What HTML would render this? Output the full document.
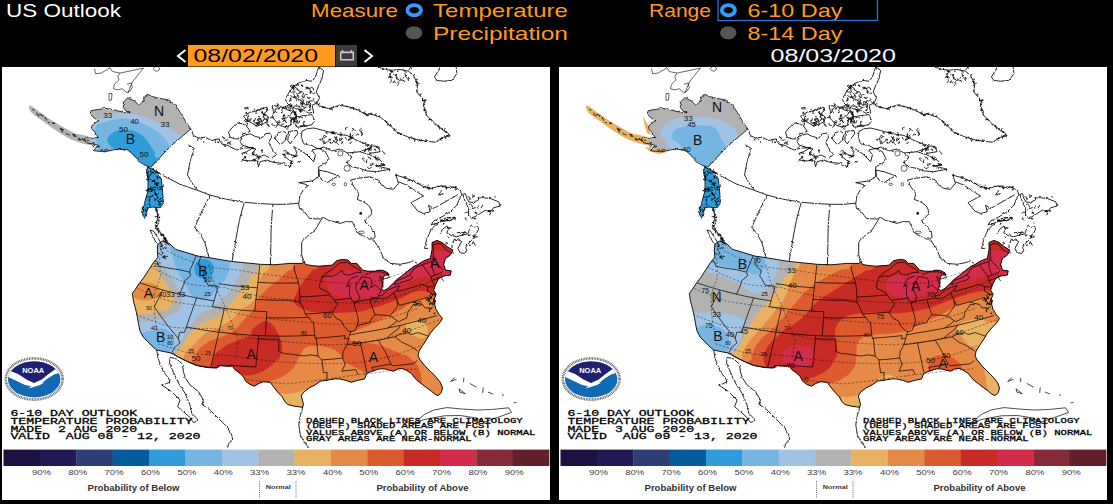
<!DOCTYPE html>
<html><head><meta charset="utf-8"><title>US Outlook</title>
<style>
html,body{margin:0;padding:0;background:#000;width:1113px;height:504px;overflow:hidden}
svg{display:block;font-family:"Liberation Sans",sans-serif}
.mono{font-family:"Liberation Mono",monospace}
</style></head><body>
<svg width="1113" height="504" viewBox="0 0 1113 504">
<defs>
<clipPath id="cp"><rect x="0" y="0" width="548" height="433"/></clipPath>
<g id="geo">
<filter id="rough" x="-5%" y="-5%" width="110%" height="110%"><feTurbulence type="fractalNoise" baseFrequency="0.3" numOctaves="2" seed="7" result="n"/><feDisplacementMap in="SourceGraphic" in2="n" scale="2.6" xChannelSelector="R" yChannelSelector="G"/></filter>
<g filter="url(#rough)">
<path d="M153.7 140.3 L155.9 148.1 L154.8 154.7 L153.7 161.4 L158.2 165.9 L162.6 170.3 L164.8 175.9 L167.1 178.1 M148.1 163.1 L150.4 168.1 L153.7 174.8 L157.0 178.7 L160.4 179.2 L158.2 174.8 L154.8 169.2 L151.5 164.2Z M188.9 62.0 L191.4 68.5 L196.4 71.0 L203.1 70.2 L209.8 73.5 L216.4 71.9 L219.8 76.9 L226.5 78.5 L228.1 79.7 L234.8 83.0 L241.5 81.3 L251.5 80.5 L244.8 84.7 L239.8 86.4 L243.2 90.5 L239.8 93.0 L248.2 93.9 L254.9 93.0 L256.5 99.7 L258.2 94.7 L264.9 93.0 L271.6 95.5 L281.6 96.4 L288.3 99.7 L290.0 94.7 L285.0 91.4 L281.6 88.0 L286.6 86.4 L293.3 89.7 L295.0 84.7 L291.6 79.7 L298.3 83.0 L305.0 88.0 L311.7 94.7 L313.4 88.0 L310.0 83.0 L316.7 81.3 L323.4 84.7 L326.7 91.4 L323.4 96.4 L316.7 99.7 L316.7 109.8 L310.0 113.9 L303.3 114.8 L296.7 115.6 L306.7 118.1 L301.7 122.3 L298.3 128.1 L296.7 136.5 L297.5 141.5 L301.7 144.0 L305.0 148.2 L307.5 151.5 L318.0 152.0 L321.3 150.3 L326.9 153.6 L332.5 154.7 L338.1 156.4 L343.6 154.7 L350.3 154.7 L352.5 159.2 L354.8 163.7 L357.0 167.0 L362.6 169.8 L367.0 172.0 L370.4 172.0 L373.1 170.3 L372.6 165.9 L369.2 161.4 L365.9 157.5 L362.0 154.2 L364.8 152.0 L368.7 148.1 L369.8 143.6 L367.0 138.6 L361.4 134.7 L355.3 132.5 L356.8 126.5 L351.8 119.8 L348.5 113.1 L355.1 111.4 L368.0 109.8 L376.4 113.1 L379.7 118.1 L384.7 121.4 L391.4 122.3 L396.4 116.4 L393.9 108.1 L404.8 111.4 L414.8 115.6 L421.5 119.8 L429.9 121.4 L438.2 118.9 L444.9 120.6 L451.6 119.8 L458.3 123.1 L459.9 128.1 L458.3 129.8 L454.9 138.2 L448.2 144.8 L439.9 149.9 L431.5 154.0 L429.0 158.2 L430.3 156.9 L434.7 156.4 L440.3 154.1 L448.1 153.6 L453.7 151.9 L452.5 150.2 L443.6 151.3 L435.8 155.8 L429.1 162.5 L424.7 172.5 L422.5 181.4 M439.9 123.1 L436.5 128.1 L441.6 126.5 M316.7 103.1 L325.1 104.7 L336.8 108.9 L331.7 111.4 L325.1 115.6 L320.0 113.1 L317.5 109.8Z M438.1 166.9 L440.3 162.5 L444.7 159.1 L446.4 162.5 L444.7 165.8 L449.2 168.6 L454.8 169.7 L460.3 168.1 L465.9 166.9 L467.0 163.6 L469.2 158.0 L472.6 160.3 L475.9 159.7 L476.5 162.5 L473.7 167.5 L470.4 172.5 L465.9 177.0 L463.7 180.3 L464.8 183.7 L462.6 186.4 L458.1 185.9 L455.9 181.4 L458.1 177.0 L459.8 174.7 L457.0 173.1 L452.5 172.0 L450.3 177.0 L449.8 181.4 M454.8 165.8 L459.2 165.3 L464.8 165.8 M438.2 153.2 L446.6 150.7 L453.3 150.7 L448.2 153.2 L441.6 154.0Z M460.8 127.3 L463.3 126.5 L466.6 134.8 L471.6 135.7 L480.0 130.6 L488.3 131.5 L496.7 134.8 L498.4 139.0 L491.7 140.7 L488.3 144.8 L483.3 143.2 L476.7 147.4 L470.0 151.5 L466.6 148.2 L466.6 141.5 L463.3 134.8Z M396.4 114.8 L404.8 118.1 L409.8 121.4 L421.5 129.0 L409.0 135.7 L415.7 144.0 L421.5 146.5 L428.2 144.8 L426.5 138.2 L431.5 141.5 L456.6 127.3 M358.0 84.7 L368.0 88.0 L378.1 93.0 L383.1 98.1 L374.7 98.9 L388.1 102.2 L374.7 104.7 L364.7 103.9 L358.0 101.4 L350.0 100.0 L345.0 96.0 L350.0 90.0 L345.1 86.0 M363.0 78.0 L376.4 79.7 L378.1 84.7 L368.0 86.4 M314.2 35.9 L320.0 40.1 L328.4 41.8 L336.8 38.4 L345.1 39.3 L355.1 42.6 L364.0 47.6 L368.0 46.8 L378.1 50.1 L386.4 56.8 L394.8 65.2 L406.5 70.2 L418.2 73.5 L433.2 75.2 L441.6 70.2 L448.2 68.5 L441.6 63.5 L433.2 56.8 L424.8 48.5 L421.5 40.1 L422.3 33.4 L414.8 25.1 L415.7 16.7 L411.5 8.4 L406.5 4.2 L398.1 2.5 L388.1 3.3 L374.7 0.0 M432.4 10.0 L436.5 3.3 L438.2 0.0 M454.1 0.0 L454.9 6.7 L449.9 13.4 L441.6 14.2 L434.9 13.4 L432.4 10.0 M226.5 65.2 L229.8 61.0 L234.8 56.0 L240.7 56.8 L244.8 59.3 L248.2 64.3 L244.0 66.0 L240.7 66.8 L238.5 71.9 L233.1 71.9 L228.1 70.2Z M238.2 74.4 L241.5 68.5 L248.2 66.8 L253.2 69.4 L259.9 71.0 L263.2 66.8 L268.2 66.0 L269.6 70.2 L266.6 75.2 L269.1 80.2 L271.6 84.1 L275.0 88.0 L268.0 91.0 L262.0 88.0 L256.0 90.0 L250.0 86.0 L254.0 82.0 L246.0 80.0 L240.0 78.0Z M241.5 49.3 L248.2 45.1 L256.5 43.4 L264.9 40.1 L265.7 43.4 L261.6 46.8 L266.6 50.1 L264.9 55.1 L259.9 56.8 L254.9 59.3 L249.9 56.0 L244.8 53.5Z M269.9 38.4 L278.3 39.3 L286.6 43.4 L293.3 45.1 L295.0 50.1 L290.0 51.8 L288.3 58.5 L281.6 60.2 L276.6 57.7 L273.3 53.5 L269.9 50.1 L271.6 45.1Z M283.3 31.8 L288.3 23.4 L295.0 16.7 L303.3 13.4 L310.0 14.2 L313.4 10.0 L316.7 0.0 L321.7 3.3 L320.0 11.7 L316.7 18.4 L314.2 25.1 L317.5 30.9 L315.0 35.9 L310.0 38.4 L311.7 45.1 L306.7 46.0 L301.7 43.4 L295.0 41.8 L288.3 39.3 L285.0 35.9Z M293.3 50.1 L301.7 48.5 L310.0 47.6 L312.5 53.5 L310.0 57.7 L301.7 59.3 L295.0 60.2 L291.6 56.0Z M274.9 66.0 L281.6 64.3 L285.0 66.8 L283.3 73.5 L278.3 77.7 L273.3 71.9Z M286.6 64.3 L295.0 63.5 L295.8 66.8 L291.6 71.9 L288.3 76.9 L285.8 73.5Z M300.0 64.3 L305.0 61.8 L311.7 61.0 L321.7 63.5 L333.4 66.8 L345.1 68.5 L355.1 73.5 L364.0 76.9 L370.0 80.0 L358.0 84.7 L345.1 86.0 L338.0 82.0 L330.0 84.0 L322.0 80.0 L316.0 82.0 L310.0 78.5 L301.7 76.9 L299.2 70.2Z M186.4 78.0 L192.2 81.3 L188.0 94.7 L185.5 108.1 L191.4 118.1 L195.5 123.1 M146.0 99.2 L160.0 108.0 L178.0 117.3 L194.7 123.1 L208.1 128.1 L224.8 132.3 L241.5 135.2 L256.5 136.5 L271.6 137.3 L285.0 137.3 L296.7 136.2 M208.1 128.1 L199.7 144.8 L192.7 160.3 L198.3 167.0 L203.0 176.0 L207.0 190.5 M242.3 135.2 L238.2 149.9 L235.7 162.1 L230.0 194.4 M270.9 137.3 L269.9 149.9 L269.1 162.1 L268.5 197.6 M320.0 151.5 L313.0 163.0 L304.7 169.7 L299.7 174.7 L299.7 188.1 L302.2 194.8 M371.5 172.6 L374.8 178.1 L376.5 179.7 L381.6 191.4 L388.2 196.4 L398.3 197.3 L406.6 195.6 L411.6 193.9 L415.0 196.4 M428.6 181.4 L422.5 181.4 M154.7 283.0 L155.8 290.3 L158.1 297.0 L161.4 304.8 L165.9 310.3 L168.1 314.8 L163.6 317.0 L159.7 318.0 L169.8 324.7 L178.1 333.0 L175.6 339.7 L181.4 344.7 L188.1 350.6 L191.5 355.6 L195.7 353.9 L194.8 351.4 L189.8 346.4 L187.3 336.4 L183.1 326.4 L177.0 317.0 L173.7 310.3 L170.3 302.5 L167.5 295.9 L168.1 290.3 L174.8 292.0 L180.3 297.0 L181.4 304.8 L183.7 311.4 L188.1 318.0 L196.5 324.7 L201.5 333.0 L199.8 337.2 L208.2 343.1 L216.5 351.4 L224.9 359.8 L229.9 368.1 L230.7 373.1 L226.6 376.5 L225.7 380.7 M300.9 339.7 L298.4 348.1 L296.8 358.1 L298.4 368.1 L302.6 375.7 L306.8 380.7" fill="none" stroke="#000" stroke-width="0.85" stroke-linejoin="round"/>
<path d="M188.9 62.0 L186.1 58.1 L181.6 51.0 L179.4 47.4 L176.0 41.8 L172.7 37.3 L166.0 32.9 L157.1 31.2 L150.4 29.5 L145.9 27.3 L143.7 28.4 L140.4 35.1 L137.0 38.4 L132.6 34.0 L125.9 30.7 L121.4 35.1 L121.4 40.7 L124.8 45.1 L128.2 44.7 L123.7 45.8 L119.2 44.7 L112.6 43.0 L103.7 41.4 L95.9 42.5 L89.2 43.6 L88.1 46.9 L92.5 51.4 L97.0 53.6 L94.7 54.7 L90.3 58.1 L89.2 61.4 L92.5 64.8 L96.0 70.3 L90.4 71.4 L84.8 70.3 L82.0 72.0 L84.8 75.8 L96.0 78.1 L91.5 83.7 L102.7 84.8 L112.7 82.6 L125.0 82.6 L129.4 85.9 L134.8 91.4 L141.5 98.1 L146.0 99.2 L144.5 104.0 L146.0 112.0 L146.0 123.0 L144.8 128.0 L142.0 138.0 L140.3 142.0 L140.8 148.0 L142.5 151.4 L144.0 147.0 L146.0 141.0 L150.0 140.0 L158.0 141.0 L161.5 136.0 L160.5 123.0 L159.4 112.0 L153.0 104.0 L148.5 100.5 L168.3 79.5Z" fill="none" stroke="#000" stroke-width="0.8"/>
</g>
<path d="M155.9 177.4 L160.0 174.0 L167.0 176.2 L173.7 182.4 L184.8 185.7 L196.0 189.1 L207.1 190.7 L218.3 192.6 L229.4 194.4 L242.0 195.7 L258.4 197.3 L271.8 197.8 L288.0 196.4 L300.3 196.4 L301.9 194.2 L303.6 197.5 L310.3 198.6 L317.0 199.2 L324.8 198.6 L330.3 198.1 L334.8 193.6 L340.4 192.5 L345.9 193.0 L349.3 196.4 L354.8 196.4 L358.2 200.3 L360.4 203.1 L366.0 204.2 L372.7 204.2 L377.1 203.1 L381.6 203.6 L386.0 205.9 L387.2 208.1 L382.7 208.1 L381.0 211.4 L381.0 217.0 L379.4 221.4 L381.6 223.7 L386.0 221.4 L391.6 215.9 L395.0 212.5 L399.4 209.2 L405.0 204.7 L412.0 199.2 L415.0 198.1 L421.7 193.9 L428.3 191.4 L430.0 183.1 L430.0 175.5 L435.0 173.4 L440.0 175.5 L445.1 179.7 L450.9 183.1 L448.4 188.1 L443.4 191.4 L441.7 197.3 L443.4 203.1 L449.2 203.9 L448.4 208.1 L441.7 209.0 L436.7 211.5 L433.4 218.1 L431.7 223.2 L434.2 227.3 L431.7 233.2 L433.8 241.9 L437.2 247.5 L440.5 251.4 L437.2 256.4 L432.7 260.9 L428.2 266.4 L424.9 272.0 L420.4 278.7 L417.1 284.2 L416.0 289.0 L418.2 293.0 L422.7 298.6 L428.2 304.2 L433.8 309.7 L438.3 315.3 L440.5 320.9 L439.4 325.3 L436.0 328.7 L432.7 327.0 L429.4 324.2 L424.9 320.9 L420.4 317.5 L416.0 314.2 L412.6 310.9 L409.3 306.4 L404.8 303.6 L400.4 301.4 L395.9 301.9 L391.5 304.2 L387.0 303.1 L382.6 301.9 L377.0 301.9 L370.3 304.2 L364.7 306.4 L362.5 312.0 L356.9 313.1 L349.1 315.3 L344.7 313.6 L338.0 312.0 L332.7 311.9 L326.0 313.1 L318.2 314.2 L313.8 317.5 L307.1 320.9 L301.5 325.3 L299.3 328.7 L300.4 333.1 L301.5 337.6 L300.4 340.3 L292.6 339.2 L285.9 337.6 L282.6 334.2 L280.3 329.8 L275.9 325.3 L271.4 319.7 L268.1 315.3 L261.4 314.7 L256.9 316.4 L252.5 319.2 L248.0 317.5 L243.6 314.2 L241.3 309.7 L238.0 306.4 L232.7 302.5 L230.5 299.2 L218.2 298.6 L216.0 300.3 L211.5 300.9 L204.8 300.5 L195.9 298.6 L187.0 295.3 L180.3 292.0 L174.8 289.2 L171.4 286.4 L162.5 284.7 L154.7 283.0 L152.5 281.4 L146.9 275.8 L141.3 270.2 L138.1 264.2 L136.4 256.4 L135.3 249.7 L133.6 241.9 L131.4 234.1 L130.3 226.3 L132.5 223.6 L136.9 216.9 L142.0 210.2 L147.0 202.4 L151.4 195.7 L155.9 190.2 L155.3 183.5Z" fill="none" stroke="#000" stroke-width="0.9" stroke-linejoin="round"/>
<g fill="none" stroke="#000" stroke-width="0.6"><circle cx="338.4" cy="86.4" r="2.6"/><circle cx="345.1" cy="101.4" r="3"/><ellipse cx="331.7" cy="117.3" rx="1.8" ry="1.2"/><ellipse cx="343.4" cy="117.3" rx="1.2" ry="1.8"/><ellipse cx="359.2" cy="165.3" rx="3.3" ry="1.2"/></g>
<circle cx="358.7" cy="146.4" r="1.3" fill="#000"/>
<path d="M147.7 132.7 L146.9 132.6 L146.7 133.2M156.3 106.3 L157.7 105.9 L158.1 106.9M155.0 112.3 L155.4 110.9 L154.7 109.2M154.4 103.3 L155.1 105.0 L155.9 105.1 L156.9 106.7M153.2 115.1 L152.2 115.0 L151.4 113.2 L152.6 113.4 L153.1 112.3M158.9 133.1 L159.8 134.5 L161.5 134.5M158.6 120.8 L157.5 120.0 L159.2 120.0 L160.7 119.6 L162.0 119.5M155.7 117.2 L154.5 117.3 L155.2 118.0 L154.8 117.7 L154.8 118.7M152.8 116.8 L153.6 116.7 L152.9 117.9 L153.3 118.2M154.4 108.9 L156.1 109.9 L156.3 111.2M149.0 121.0 L148.5 122.5 L149.1 122.8 L149.9 122.4 L151.2 124.1M158.2 120.9 L158.3 121.2 L158.0 119.6M157.3 122.9 L158.9 122.6 L160.0 122.3M146.0 121.9 L145.4 122.3 L146.5 122.8 L146.7 121.6 L145.2 121.8M157.1 135.6 L158.3 136.2 L156.8 134.5M146.2 129.4 L145.4 130.5 L144.2 129.8M148.2 111.9 L148.7 112.5 L148.0 113.2M152.5 107.0 L152.0 106.7 L150.9 105.3 L152.4 105.3M148.7 124.2 L147.7 123.8 L146.1 125.5M151.8 120.7 L152.0 119.7 L153.7 120.8 L153.7 119.8M154.4 116.8 L155.5 117.4 L155.3 118.3 L153.9 117.2 L152.3 115.7M147.0 135.1 L147.9 134.8 L147.0 133.0 L148.3 131.4M156.7 136.7 L156.5 137.9 L157.8 138.9 L158.3 137.2 L157.2 135.8M153.5 134.4 L152.4 133.0 L153.0 132.2 L152.9 131.6 L154.3 133.0M146.2 110.0 L147.4 110.3 L146.0 110.0 L145.2 108.6M150.9 122.2 L151.1 123.1 L151.2 121.6 L149.5 120.2 L148.3 120.4M149.5 114.6 L150.7 114.2 L150.1 113.4 L151.5 113.8 L153.1 115.2M147.8 122.3 L147.1 122.0 L146.7 123.7M147.9 107.4 L148.3 108.4 L147.9 108.6M148.9 105.9 L148.4 105.1 L148.5 103.7 L150.0 102.3M146.6 113.4 L147.2 111.9 L145.8 113.3 L144.2 112.3 L145.9 112.0M147.5 108.9 L146.3 110.1 L146.0 111.8M156.5 122.0 L156.7 122.8 L156.0 121.7 L155.3 120.0M156.2 135.4 L156.6 135.2 L155.9 133.6 L157.4 135.3 L159.1 133.9M148.8 124.6 L150.1 124.5 L149.6 123.4 L148.6 122.3 L148.0 123.4M147.2 129.4 L147.7 129.9 L149.3 129.5M150.0 114.5 L151.0 114.7 L152.6 113.8 L151.1 114.2M156.5 106.2 L154.8 105.3 L153.2 105.5M146.9 105.6 L145.2 106.5 L144.7 106.4 L145.9 105.0 L146.9 104.4M152.6 126.3 L153.6 128.0 L154.8 127.4M147.4 121.0 L146.6 122.4 L145.4 123.9 L143.7 123.2 L145.1 124.3M157.8 132.4 L159.5 131.4 L158.8 131.5 L157.2 132.8 L156.3 133.8M154.9 118.6 L155.0 118.8 L156.3 118.6 L155.9 118.0M149.4 103.9 L150.9 105.6 L149.2 106.3 L149.5 106.6 L148.2 108.3M149.6 122.7 L150.0 121.8 L148.2 121.9M152.5 125.7 L154.1 126.2 L153.1 125.5 L153.7 127.2M155.3 114.8 L156.7 116.3 L155.9 116.8 L154.3 115.3 L154.3 116.6M148.1 129.8 L147.4 130.5 L148.7 130.0M155.1 128.8 L153.6 127.4 L154.0 127.5 L153.6 126.2 L153.3 127.8M155.4 130.4 L156.0 131.2 L155.5 131.2 L154.3 132.0M146.5 137.3 L147.0 136.5 L148.5 138.2 L147.2 139.2M156.9 126.1 L155.4 127.4 L154.5 128.6 L156.1 130.1 L155.7 131.5M151.7 124.8 L153.3 123.4 L153.7 123.1 L152.3 122.3M149.2 129.2 L150.9 129.3 L151.2 127.6M158.7 111.5 L157.6 110.7 L157.7 109.9 L158.1 109.0M163.7 189.3 L162.5 188.9 L161.5 189.8M163.0 180.3 L163.3 180.5 L162.3 180.3M159.8 186.4 L161.1 186.5 L160.9 185.8 L159.5 184.4 L159.4 183.9M159.7 188.6 L158.7 187.6 L157.8 186.7 L156.9 186.7 L156.4 186.7M160.9 189.9 L161.8 190.6 L163.0 191.4 L163.9 191.0M163.9 189.5 L165.2 189.2 L165.9 189.7M158.7 180.6 L158.8 181.6 L158.3 182.8 L159.5 182.7M161.0 189.0 L160.8 189.4 L162.2 190.4 L163.2 191.5 L163.5 192.3M160.4 180.9 L161.4 181.1 L161.4 181.5 L161.1 182.2 L161.1 181.8M161.8 188.5 L162.5 189.7 L161.5 190.4 L160.2 190.9M158.9 179.9 L159.7 178.9 L159.0 179.8M163.6 177.8 L164.4 176.5 L164.0 175.7 L162.5 174.5 L161.2 173.2M163.4 181.9 L164.4 180.8 L163.4 181.4M159.7 177.6 L158.7 176.2 L158.2 176.5M426.9 236.9 L428.2 236.8 L428.4 237.1 L429.6 237.0M429.4 229.8 L429.3 230.8 L429.2 231.3 L428.2 231.7 L429.3 231.7M430.9 239.4 L429.9 240.8 L428.5 241.6M431.6 231.4 L432.2 232.5 L432.9 233.8 L432.6 234.7 L432.4 236.0M432.0 227.9 L432.0 227.2 L432.5 228.1M431.8 234.4 L432.1 234.5 L431.8 233.7 L431.3 235.0M425.2 231.6 L425.7 230.6 L426.8 232.0 L428.0 232.2 L428.7 231.3M431.7 237.5 L430.5 237.4 L430.9 237.4 L430.5 236.1M432.2 226.4 L433.0 227.5 L431.6 227.9 L430.3 228.5M427.6 243.6 L427.7 245.1 L427.1 243.8 L427.4 242.4M426.6 234.2 L425.9 234.7 L427.3 234.2 L426.9 233.2 L428.0 232.8M432.0 233.7 L432.5 232.5 L433.9 233.5 L433.2 233.9 L433.9 235.2M428.5 231.2 L428.6 229.7 L428.4 229.9 L427.0 230.3M430.1 227.2 L429.6 226.8 L430.8 227.1 L430.1 227.1 L430.4 228.4M425.2 233.4 L425.0 233.7 L424.5 233.3 L423.9 232.9 L424.2 232.3M428.0 241.4 L429.4 242.0 L428.3 242.0M430.2 231.4 L429.3 231.2 L429.9 230.0 L429.4 229.5M431.7 234.8 L430.4 235.5 L429.6 235.7M427.2 241.7 L427.3 240.8 L428.2 241.8M426.5 231.6 L425.2 231.9 L425.5 231.7 L425.5 232.7 L425.4 233.1M427.3 237.4 L428.6 236.3 L427.1 237.7M432.0 245.7 L432.2 247.2 L432.9 245.8 L432.7 246.6M141.4 141.1 L141.4 140.2 L140.2 140.3 L139.7 141.4M140.4 145.7 L139.8 144.9 L138.9 144.3 L139.9 145.0M144.8 148.8 L144.0 148.3 L144.9 149.4M145.1 144.1 L144.7 143.8 L144.1 143.2 L143.6 144.3 L144.3 145.3M145.0 140.1 L145.2 141.0 L146.1 141.0 L145.8 141.3M142.6 141.8 L142.0 142.5 L141.0 142.4 L142.2 142.4M143.9 147.7 L145.1 147.0 L144.9 146.3M143.8 143.0 L143.6 143.3 L144.0 142.5 L143.5 143.3M253.4 51.0 L253.2 52.5 L251.8 53.9 L251.7 54.4M247.3 49.1 L245.5 50.5 L246.3 48.5M265.6 57.4 L266.6 58.1 L267.2 59.6 L265.3 57.5 L266.9 58.0M260.9 47.2 L262.4 47.3 L263.0 47.3 L263.7 47.1 L262.8 49.3M265.9 55.4 L264.8 56.6 L264.9 54.5 L265.2 52.8 L263.4 51.9M244.5 42.3 L242.3 41.0 L244.1 40.9 L246.3 40.4 L244.4 41.0M260.9 46.3 L260.1 44.2 L259.7 46.0M246.1 53.3 L244.2 54.6 L242.7 54.9M253.3 45.1 L254.5 44.7 L254.0 44.2 L256.1 42.0 L257.7 44.1M256.6 58.0 L255.4 57.5 L256.9 58.1M245.3 57.8 L245.1 55.7 L245.5 57.1M251.9 43.2 L252.2 42.1 L252.7 41.5M253.4 57.3 L254.9 55.7 L254.4 56.3 L253.6 55.1M257.0 53.6 L258.1 55.5 L256.8 57.5M263.3 51.7 L261.3 49.9 L261.4 48.9 L262.4 48.4M252.7 56.5 L251.8 55.0 L252.7 53.2 L251.5 53.4M262.6 51.8 L261.3 53.7 L262.4 51.8 L262.0 50.7M244.1 46.5 L244.4 44.9 L243.8 46.6 L245.9 47.3 L246.7 47.7M246.2 42.6 L246.1 41.9 L245.3 39.9M256.8 43.2 L257.8 42.4 L260.0 40.5M255.6 53.8 L256.6 52.2 L258.6 51.5 L256.8 51.3 L255.0 52.9M264.7 42.5 L265.0 43.0 L264.5 43.4 L265.0 41.6M257.7 57.9 L258.7 57.4 L259.7 57.8 L259.5 59.2M244.9 54.0 L244.1 52.2 L242.0 54.2M245.6 54.5 L247.4 53.4 L245.3 52.5 L246.1 51.2 L244.6 53.0M258.2 49.1 L257.4 49.8 L256.1 49.5M261.5 56.6 L261.0 57.0 L260.2 55.4M254.4 55.4 L255.3 57.4 L254.4 55.9M253.4 46.4 L254.8 45.9 L254.9 46.6M259.5 55.5 L259.3 53.6 L257.2 55.2 L255.2 56.2 L255.5 55.3M261.2 42.3 L260.8 40.9 L262.0 39.9M260.9 54.7 L259.2 53.0 L259.4 53.6 L258.8 51.8 L257.5 53.2M248.9 53.4 L249.0 51.4 L247.8 52.6 L248.0 54.6M254.5 57.9 L254.0 59.2 L255.8 57.4M264.4 53.6 L264.2 52.2 L265.9 50.1M255.7 52.4 L257.0 54.4 L256.8 55.1 L255.5 56.0 L256.9 56.7M259.5 45.4 L261.6 47.5 L261.8 48.8 L261.0 50.6M262.7 47.6 L260.6 46.9 L260.3 45.9M281.9 51.8 L281.3 51.3 L283.4 51.2 L284.1 51.0 L285.7 49.8M271.0 51.1 L270.5 50.4 L269.2 50.7 L267.9 50.8M289.8 52.3 L287.7 50.4 L289.6 50.4M273.1 58.7 L271.4 58.4 L269.8 57.6 L270.3 56.1M287.0 39.1 L287.1 37.2 L287.5 38.0M281.8 50.8 L279.7 51.8 L281.8 53.9 L282.5 53.3 L281.9 54.1M286.5 40.4 L285.8 39.8 L286.1 41.0M275.1 46.0 L273.1 43.9 L273.8 41.9 L272.5 42.4M288.3 42.6 L289.2 40.6 L288.2 39.9M285.6 39.1 L285.1 38.4 L284.9 39.3 L286.4 38.1M293.7 47.8 L293.1 46.4 L294.2 48.2 L292.1 47.2 L293.3 46.5M276.6 38.2 L275.4 36.5 L274.8 36.7M274.6 57.5 L276.0 58.1 L274.8 58.2 L274.7 58.8 L273.7 60.7M291.6 41.4 L292.1 39.4 L291.3 41.0 L292.0 40.8M289.2 53.4 L288.1 54.2 L289.0 52.6 L290.7 52.2 L289.6 52.0M293.5 49.8 L294.5 51.7 L293.4 49.7 L293.1 47.9 L292.7 46.5M283.8 58.6 L284.8 58.9 L282.7 59.8 L284.5 61.1 L286.2 62.9M283.3 54.6 L284.6 55.5 L283.2 54.5 L284.5 55.3M282.3 50.8 L282.5 51.7 L282.0 50.6M280.4 44.8 L279.6 45.6 L280.6 44.8 L279.2 45.6 L279.8 45.3M275.0 42.4 L274.8 41.0 L275.5 40.3 L274.4 39.5 L276.3 37.4M279.3 43.9 L280.1 43.0 L280.2 41.4M291.8 45.0 L291.6 45.5 L293.1 44.4 L292.9 45.9 L294.4 44.7M283.4 54.0 L283.5 53.7 L281.5 52.0 L281.8 51.2M288.5 38.4 L290.3 38.9 L288.8 38.8 L290.1 37.2M282.4 47.0 L281.4 48.9 L281.9 48.4 L283.5 50.2M278.4 40.6 L276.3 41.3 L277.6 40.8 L277.3 41.5 L276.6 42.7M282.3 57.7 L280.9 56.4 L279.8 58.5M283.0 39.1 L284.7 40.5 L284.0 41.6 L283.2 40.0 L284.8 41.4M275.9 56.5 L276.1 54.5 L277.5 53.1M275.5 55.0 L277.6 56.2 L277.9 54.1M291.9 45.7 L292.1 45.4 L292.2 46.1 L293.6 46.1M285.6 47.8 L287.1 49.4 L288.8 47.3 L290.4 45.2 L288.8 46.3M279.4 40.2 L280.7 40.4 L282.8 39.8 L280.9 41.7 L280.2 40.5M280.7 54.9 L282.6 52.9 L283.5 53.1M292.2 53.2 L293.3 55.2 L291.2 54.0 L293.1 53.9 L291.8 55.0M280.7 49.4 L282.1 48.9 L282.7 48.2 L280.8 49.5M286.8 58.7 L285.9 60.6 L286.3 61.3M294.2 37.2 L295.7 39.1 L296.4 39.9 L298.2 40.5 L296.7 38.5M308.3 38.9 L308.0 40.5 L308.5 38.1M294.6 22.1 L296.2 23.3 L298.3 24.7 L297.2 26.4M299.7 39.1 L302.0 40.0 L303.9 40.6 L304.6 39.9 L305.1 40.5M294.3 30.6 L295.5 28.8 L296.4 28.5 L294.8 27.1 L294.9 25.9M299.0 35.0 L300.9 35.3 L301.1 35.6 L303.0 36.6M291.1 30.1 L293.3 29.5 L294.4 31.6 L292.2 29.9 L293.7 31.5M303.3 22.5 L304.5 21.3 L305.7 20.6 L306.7 21.2M300.5 36.4 L301.0 37.5 L299.6 38.0 L300.0 38.5 L299.3 39.6M296.2 26.3 L297.6 26.5 L299.5 24.9M298.3 34.7 L299.2 36.9 L300.8 37.6 L300.9 35.8 L300.0 35.4M309.8 33.8 L307.7 33.7 L307.1 35.3 L304.7 34.5 L304.7 36.7M300.4 31.3 L299.0 32.7 L298.4 33.7 L296.8 32.0 L296.4 33.6M293.2 29.9 L292.5 28.7 L291.5 27.2M296.4 19.1 L296.2 17.0 L294.0 19.0 L294.8 18.1M298.8 45.8 L298.0 44.8 L297.7 43.0 L299.4 41.1M307.8 24.1 L308.3 23.1 L307.5 21.2 L307.5 21.6M302.0 30.2 L302.2 28.4 L303.6 27.5 L305.5 27.7M291.0 18.1 L293.0 19.0 L291.0 21.1M289.7 25.4 L287.5 24.1 L289.1 22.9M306.9 39.4 L307.2 40.0 L308.9 41.9M290.8 21.8 L292.0 21.2 L291.5 19.5 L291.7 18.4 L291.1 20.5M292.0 18.4 L293.0 20.2 L295.4 21.7 L295.1 22.3 L296.7 23.3M295.0 39.3 L293.0 38.9 L292.5 38.4M291.6 22.2 L289.2 19.9 L288.1 19.1 L290.2 17.9M308.4 41.9 L306.8 43.5 L308.2 43.1 L306.5 43.5M311.0 31.0 L312.0 32.6 L309.8 34.5 L309.7 34.5M291.0 18.2 L290.1 20.0 L290.1 20.1M308.0 24.0 L310.0 24.9 L307.7 25.1 L309.1 25.9 L308.1 26.5M303.6 38.5 L305.7 37.3 L305.6 37.8 L304.4 38.0M288.2 30.6 L289.0 31.1 L289.1 33.5 L287.8 33.5M288.3 28.3 L290.4 29.9 L292.0 30.7M305.3 36.7 L303.3 37.7 L301.5 36.2 L299.6 36.4 L297.9 37.5M288.6 30.9 L288.1 32.4 L288.1 32.8 L287.6 34.9M298.7 44.7 L298.1 42.9 L296.7 42.0 L297.1 43.3M310.4 26.4 L312.7 26.2 L312.3 26.5M306.0 20.2 L303.6 20.4 L306.0 22.0M300.7 30.1 L299.8 28.7 L302.0 26.7 L300.2 24.9 L298.1 24.4M293.1 22.5 L291.5 20.9 L289.3 20.6M311.6 23.0 L311.2 21.0 L311.2 21.0 L309.3 20.3 L307.1 21.9M306.7 39.0 L307.7 38.6 L307.3 37.4M294.8 34.2 L294.4 33.2 L295.5 31.8 L297.2 29.8 L295.0 28.0M306.1 22.2 L306.7 20.3 L306.6 20.7M289.1 43.1 L288.7 44.1 L287.4 43.3 L286.8 40.9 L288.6 38.9M290.4 40.3 L290.2 40.0 L288.4 37.6 L288.5 36.3M291.6 43.4 L290.9 42.5 L290.2 41.1M291.6 22.5 L292.2 24.6 L293.6 25.1M306.5 31.8 L305.1 30.1 L307.2 31.5 L306.7 31.0 L308.7 30.6M289.9 24.8 L291.5 25.2 L291.8 26.6M298.6 33.0 L299.6 34.2 L301.5 34.5 L301.8 33.0 L300.5 32.7M300.0 43.2 L301.3 41.7 L303.2 41.2M302.8 30.3 L302.5 30.6 L300.3 30.2M307.3 38.6 L309.1 37.2 L306.9 34.8 L307.0 35.7 L306.5 37.7M300.1 42.2 L298.1 44.5 L298.5 44.2 L300.6 44.3M300.2 19.7 L300.9 18.4 L299.0 18.0 L301.1 19.8M294.9 56.0 L295.0 55.0 L296.0 54.2 L294.3 54.0 L294.1 55.5M300.1 58.1 L299.0 59.7 L298.4 58.7 L299.6 59.3M295.7 54.5 L294.8 52.6 L293.1 52.9 L291.2 52.0 L292.6 51.6M303.5 58.3 L301.9 58.9 L303.4 59.2 L304.0 58.7 L305.4 59.7M301.8 55.7 L301.6 54.6 L302.8 54.6 L301.2 55.9M294.6 51.8 L293.3 51.5 L294.0 51.8M300.7 58.7 L300.8 58.6 L300.7 58.3M303.7 49.9 L303.3 49.7 L303.8 49.7 L304.0 49.7M297.8 53.4 L297.4 55.4 L295.5 56.2 L295.0 56.1 L294.4 56.2M293.8 54.6 L292.2 53.0 L290.9 51.1 L288.9 51.1M302.4 57.0 L300.8 58.9 L301.9 56.9 L300.9 56.9M296.3 51.1 L298.0 50.2 L299.0 49.7 L299.2 50.1 L301.0 51.1M360.5 63.2 L358.6 64.8 L357.6 63.0 L358.8 61.6 L359.6 61.1M323.2 69.1 L322.3 68.1 L321.2 69.5 L322.7 70.7M327.8 75.0 L327.5 75.3 L328.9 75.3 L328.7 76.5 L328.5 75.7M348.5 68.9 L348.5 70.6 L346.6 69.2M325.6 75.2 L327.0 73.3 L327.1 71.9 L328.5 73.4 L328.1 71.7M349.9 75.0 L349.5 75.0 L348.2 76.8 L347.7 75.7M331.7 73.7 L331.2 73.6 L332.7 74.8 L333.8 76.1M330.0 64.8 L330.0 64.4 L331.3 66.1 L332.3 65.2 L330.4 66.8M359.6 65.1 L359.8 66.5 L359.8 66.6 L359.7 64.9M360.3 66.0 L360.0 66.9 L360.8 67.3 L359.0 68.4 L360.3 68.1M320.5 75.2 L320.8 74.4 L322.1 75.6 L323.7 77.2M318.7 71.7 L319.1 73.3 L317.1 72.3 L317.1 72.4M332.3 66.2 L331.6 65.4 L332.0 66.3 L331.3 64.5 L330.0 65.9M350.1 64.4 L350.4 63.7 L351.9 62.3 L350.3 61.6 L351.3 61.8M339.3 74.8 L341.0 75.1 L339.4 76.5 L340.3 76.3M325.0 65.5 L325.2 66.6 L324.7 65.5 L324.9 65.6 L323.4 65.7M338.5 65.0 L339.3 66.7 L339.1 67.1 L339.4 69.0 L337.5 68.3M351.4 67.6 L349.7 69.3 L350.5 70.4M322.4 71.4 L323.3 69.7 L324.9 69.5M325.1 74.6 L323.7 76.0 L321.9 75.7 L321.6 77.2M334.4 70.4 L333.1 72.4 L334.8 72.3 L333.4 70.5 L332.5 70.3M350.6 71.6 L350.5 71.3 L351.1 69.4M343.7 63.0 L343.5 61.2 L343.3 61.0 L344.5 60.6 L345.7 60.2M346.0 72.9 L346.6 72.1 L348.3 71.4M349.2 69.1 L348.1 68.0 L349.1 68.0M347.0 72.0 L346.3 73.6 L347.8 72.7 L349.5 71.7 L349.2 71.0M348.3 65.9 L348.6 67.5 L347.2 68.2M328.6 64.9 L330.6 65.6 L331.7 65.1 L331.4 65.6 L332.7 66.4M338.7 71.2 L339.6 73.0 L339.5 71.9 L340.7 71.3M333.1 67.3 L331.5 65.8 L330.4 66.5 L329.3 67.1M321.2 72.0 L320.4 70.8 L320.4 72.8 L321.8 74.1 L323.2 74.1M334.3 74.4 L335.0 76.2 L335.2 76.3 L336.3 77.5 L337.1 77.9M353.7 63.5 L352.6 63.0 L352.2 63.0M344.0 70.6 L343.3 70.3 L343.5 70.8 L344.5 72.5M338.9 72.7 L339.5 72.3 L337.7 74.0 L337.5 72.5 L338.0 70.7M335.1 70.8 L334.5 69.6 L333.9 70.9 L332.3 69.5M333.3 75.4 L335.2 73.6 L335.2 72.2 L335.5 73.3 L335.4 74.1M348.0 69.6 L349.9 70.8 L348.8 71.6 L350.6 71.3M332.6 73.5 L331.1 74.7 L329.8 76.4M355.7 66.7 L356.8 67.9 L355.2 67.0 L353.8 68.8M394.7 9.2 L393.6 7.3 L395.0 8.1 L394.0 7.0M393.1 13.6 L391.7 14.6 L390.9 15.7 L392.8 14.7 L394.3 16.0M402.0 3.4 L402.4 4.2 L404.4 5.3 L403.8 5.0M388.1 9.4 L388.6 11.2 L387.8 9.4 L389.7 10.7 L390.9 10.8M391.6 5.0 L390.9 4.8 L389.6 4.8 L391.0 4.5M406.7 3.2 L407.5 1.7 L408.9 -0.0 L409.5 1.9M403.0 15.0 L401.1 13.1 L401.7 13.5 L401.6 14.2M405.5 11.8 L404.4 10.3 L402.8 8.7M386.2 11.1 L387.2 9.3 L388.6 8.9M407.6 12.0 L406.3 10.1 L406.4 11.7M388.5 4.9 L388.1 4.5 L389.7 4.4 L388.7 2.6M403.0 8.6 L404.7 8.6 L403.1 7.4 L402.7 5.9M388.8 8.6 L387.7 10.2 L389.2 9.9 L388.1 8.6M402.0 13.7 L400.9 13.4 L398.9 12.7 L398.1 11.2M387.8 15.9 L388.8 14.9 L389.4 13.7 L389.1 12.2M399.3 12.9 L397.7 13.6 L395.9 11.9 L395.9 12.9 L396.0 13.0M388.4 7.7 L388.0 6.6 L387.8 7.5 L388.3 6.4M395.5 11.1 L394.6 11.7 L394.1 9.9M402.0 10.0 L400.8 11.1 L401.3 11.3M405.8 12.4 L405.9 12.9 L407.1 12.9 L406.0 13.2M394.4 12.3 L395.3 11.0 L394.0 9.3 L393.5 8.5 L394.1 9.1M388.3 3.5 L389.1 4.3 L390.0 5.3 L389.3 5.6 L387.7 7.3M397.1 14.5 L395.7 15.2 L396.8 16.3 L396.5 17.3 L394.9 18.8M395.8 4.6 L396.2 4.0 L396.0 3.7 L395.4 5.0M391.1 8.0 L391.5 7.6 L392.4 7.8M244.0 89.3 L243.1 90.9 L243.5 89.7 L242.8 91.1M244.3 92.6 L243.7 93.2 L244.7 94.5M260.8 83.3 L259.7 82.8 L259.7 83.9M259.6 90.6 L258.6 89.9 L256.8 91.6 L255.8 92.4M251.8 88.3 L251.0 87.5 L251.8 87.7 L251.0 87.9 L251.0 87.9M257.5 91.1 L256.4 91.8 L256.2 91.4M250.6 81.4 L249.5 80.6 L250.7 81.6 L251.9 82.2 L251.8 82.1M250.5 86.9 L251.0 87.0 L250.0 88.5M253.9 91.1 L254.5 91.2 L256.3 89.9 L256.9 91.2 L256.9 92.4M244.0 85.8 L244.7 86.5 L244.2 85.9 L245.1 86.3M260.1 86.1 L260.2 84.3 L260.5 83.1 L259.3 83.9 L259.8 83.7M251.3 87.8 L251.5 86.1 L251.9 85.2 L252.8 85.1M252.3 92.2 L251.3 93.4 L250.1 93.0M253.8 86.9 L255.4 87.9 L256.2 89.6M251.5 93.0 L253.1 91.8 L253.4 93.6 L252.4 95.1M242.3 85.2 L241.7 85.6 L243.3 86.4 L242.9 86.1M291.5 95.0 L290.1 93.9 L289.6 94.0 L289.9 94.4 L288.5 94.0M295.6 95.7 L297.0 94.0 L297.4 95.3 L298.9 93.9M288.4 96.1 L289.5 95.8 L288.0 96.6M292.6 89.5 L294.3 89.8 L294.3 88.6 L294.8 88.2 L295.8 88.5M283.5 86.9 L282.2 87.4 L280.8 88.1M282.1 90.4 L282.4 90.4 L283.6 90.4 L283.3 90.6M284.6 84.0 L282.9 83.6 L281.5 84.3M285.7 85.8 L285.5 85.1 L284.3 84.8 L283.6 85.8M283.1 88.4 L281.6 86.8 L281.7 87.4 L279.9 87.1M285.8 85.2 L285.6 86.6 L286.8 85.5M288.6 98.0 L288.3 99.6 L287.1 100.9M290.7 88.1 L292.2 88.3 L292.6 90.0 L291.5 90.0 L289.9 91.0M381.7 96.5 L380.8 97.0 L382.4 98.5M373.8 84.1 L373.4 82.4 L371.9 82.3 L372.2 81.9M364.8 95.0 L364.1 94.7 L364.6 95.9 L364.6 94.3 L364.9 92.4M362.3 84.6 L363.3 83.8 L362.4 84.3 L364.0 83.4 L362.9 84.7M373.8 81.3 L374.2 80.5 L375.0 79.8 L375.9 81.4 L377.6 80.5M380.0 83.8 L381.7 85.2 L382.5 87.2 L382.8 86.6M362.8 94.6 L361.6 93.3 L360.3 91.6 L361.4 90.8 L362.6 92.0M376.1 89.7 L376.3 90.7 L374.5 91.4 L372.9 91.2M368.0 81.8 L366.4 81.1 L367.0 82.9 L368.1 83.6 L369.3 82.3M372.3 96.8 L370.4 97.5 L370.5 96.0M367.5 83.0 L365.9 81.4 L364.9 82.9 L363.3 81.4M369.4 83.3 L369.1 81.4 L367.9 81.9M369.7 100.3 L368.5 100.8 L367.1 101.7 L365.1 100.0M369.3 97.7 L368.9 99.0 L368.7 97.4 L369.0 96.2M382.0 96.8 L380.3 97.8 L380.8 97.2 L378.9 96.3 L379.3 98.2M360.1 103.6 L361.1 104.1 L360.7 104.5M374.0 88.6 L373.7 89.9 L372.3 90.4 L373.9 90.6M369.5 80.1 L367.8 81.6 L367.1 82.7 L366.3 84.6M368.1 85.0 L367.5 86.9 L368.5 86.3M378.3 91.4 L376.8 92.6 L374.8 93.3 L374.2 91.9 L373.2 92.0M365.9 89.4 L366.7 90.8 L368.3 90.8 L368.9 92.7M374.9 98.5 L374.9 97.9 L373.4 98.6 L374.8 98.5 L374.2 100.1M470.9 140.4 L470.2 141.5 L471.8 141.4 L473.3 140.4 L473.4 141.3M466.4 144.8 L465.0 145.7 L464.2 144.9 L462.7 146.5M488.2 143.8 L488.0 145.2 L488.1 145.8 L488.6 147.2 L487.1 148.0M468.7 142.6 L468.5 142.7 L468.0 142.7M471.6 128.7 L470.2 127.7 L470.8 128.7M485.7 145.1 L487.3 143.7 L487.5 143.9 L487.1 143.4 L486.0 143.5M474.8 145.2 L474.4 146.8 L474.0 145.3 L472.7 145.9 L474.3 145.9M480.7 137.9 L480.8 138.1 L480.2 139.7 L479.0 140.2 L479.4 141.3M476.0 141.7 L475.2 140.7 L476.5 139.6 L476.3 138.5M467.1 137.4 L468.6 137.1 L470.1 138.5 L470.4 139.8 L470.4 139.4M473.4 143.8 L473.6 143.6 L473.3 144.3M467.7 133.2 L468.2 131.7 L467.4 131.4 L468.6 131.8M470.4 130.7 L470.3 129.9 L471.8 130.0 L472.5 128.5 L471.6 129.6M489.9 143.9 L490.7 143.8 L492.0 143.7 L490.9 144.0 L489.7 144.7M477.5 130.3 L475.9 130.6 L476.4 131.7 L476.7 130.9 L476.4 132.4M493.2 130.4 L492.8 129.4 L493.3 130.3M468.2 130.1 L467.0 130.3 L466.4 130.2 L465.5 129.2M471.5 134.8 L472.3 135.6 L472.6 135.6 L473.4 134.2 L474.8 133.9M474.5 155.9 L474.9 155.8 L475.5 156.5M471.6 174.2 L470.8 175.7 L470.2 176.0M473.6 171.2 L474.2 169.7 L475.4 170.0 L474.8 169.0M470.6 168.3 L471.5 169.8 L471.7 170.4 L472.0 169.7 L473.5 169.1M468.1 178.7 L468.2 178.0 L467.4 178.6 L467.2 178.1 L468.5 177.9M449.1 160.0 L448.7 161.3 L447.7 161.5 L447.4 160.0M460.7 167.7 L460.5 168.3 L460.6 167.0 L462.2 166.5 L462.0 166.2M473.5 178.7 L472.6 177.1 L472.5 176.1 L471.0 175.7 L470.0 177.0M462.7 164.4 L462.8 165.4 L463.2 164.4M465.0 153.5 L463.8 152.3 L464.0 150.9 L462.8 151.5M444.9 160.0 L445.7 159.9 L446.4 160.3 L445.9 161.2 L446.9 161.6M473.9 152.5 L473.5 151.1 L472.2 151.5 L472.5 152.2 L471.4 150.8M446.9 171.0 L447.0 171.0 L445.6 169.4M467.1 168.3 L466.2 167.8 L466.9 169.1 L468.0 167.6 L467.6 168.8M441.2 157.7 L441.6 156.2 L442.2 156.0 L441.4 157.2M444.1 177.8 L444.3 176.8 L445.7 176.2 L444.2 175.1 L443.5 176.2M229.3 77.5 L227.8 76.9 L227.5 76.5M222.1 70.7 L221.3 70.5 L219.9 69.3M221.6 72.2 L221.9 72.0 L222.8 71.1 L221.4 70.7 L220.4 69.9M222.5 73.7 L223.9 73.0 L225.3 73.2 L226.2 72.3M213.4 75.9 L213.8 75.0 L212.9 74.4 L213.8 73.5 L212.6 72.3M197.4 70.8 L196.7 71.0 L195.6 72.2 L195.7 73.4 L195.6 72.6M201.4 74.2 L202.0 75.2 L201.2 75.3M229.1 73.9 L228.1 75.4 L226.7 75.1 L225.3 76.0M220.7 77.7 L222.1 77.9 L223.6 78.6 L223.1 80.0 L222.7 79.1M198.7 72.7 L199.5 72.5 L198.9 71.3M216.0 74.5 L216.2 75.4 L215.4 75.2 L216.6 75.0 L216.1 76.2M225.3 77.0 L226.2 75.7 L227.6 76.9 L228.3 77.0 L228.1 76.4M313.7 35.8 L312.7 34.8 L312.0 35.4M315.4 36.8 L314.7 37.4 L314.8 36.6M317.0 38.8 L316.6 38.1 L316.3 38.3 L315.7 38.9M316.9 36.9 L317.8 36.6 L317.0 37.4M327.6 42.2 L327.9 41.4 L328.7 42.0 L327.9 42.4M321.1 40.2 L321.3 40.2 L321.7 39.7 L320.9 40.3M321.2 40.9 L320.2 40.1 L321.3 40.4 L321.8 39.3M324.0 41.0 L323.0 40.2 L322.6 40.0M329.2 41.3 L330.3 40.5 L329.5 41.8M329.0 41.5 L329.9 42.7 L329.9 42.9 L330.8 42.9M335.3 39.1 L334.6 39.8 L335.9 39.4M328.3 41.4 L329.6 40.5 L329.8 40.8M345.1 39.7 L345.6 39.8 L345.7 39.9 L346.3 39.9M338.2 38.8 L338.8 38.7 L337.8 37.7 L338.5 38.4M344.9 39.4 L343.7 39.8 L344.3 39.1M339.4 38.1 L339.6 37.5 L340.3 38.1 L341.1 36.9M351.9 40.9 L351.7 41.5 L351.0 40.3M349.9 40.3 L349.5 40.9 L349.1 41.6 L348.0 40.9M351.3 41.4 L351.7 41.1 L350.6 40.2 L351.4 41.1M354.6 42.2 L354.0 43.2 L354.2 43.0 L355.0 42.3M361.0 45.7 L362.0 46.1 L362.5 44.9 L363.5 44.9M357.8 44.8 L357.3 44.5 L357.7 44.7 L357.0 44.5M362.0 47.0 L362.9 46.8 L364.0 46.2M356.1 42.9 L356.8 42.7 L357.5 42.2 L358.3 43.3M365.5 47.5 L364.2 48.3 L364.1 48.2M366.2 47.9 L365.5 49.1 L365.4 48.8 L366.6 48.5M367.7 46.4 L368.8 46.9 L369.7 45.7M366.8 46.9 L366.7 47.0 L367.4 46.9 L366.5 47.1M377.4 49.1 L377.3 48.5 L376.9 49.6 L377.6 50.4M374.6 48.6 L373.7 47.9 L373.1 49.0M370.1 46.7 L369.5 47.5 L369.3 46.4 L368.3 47.1M373.5 48.4 L373.4 47.2 L373.7 46.7 L374.6 46.9M383.9 55.6 L384.0 55.9 L384.7 55.2M383.1 53.9 L384.0 55.1 L383.4 54.0 L383.7 53.1M386.1 56.7 L385.9 57.9 L385.1 57.9M383.9 55.2 L384.9 56.0 L384.5 56.0 L384.9 55.2M388.1 57.4 L388.7 57.6 L388.3 58.6M392.3 64.0 L393.1 62.9 L391.9 61.7 L393.1 61.9M388.2 58.7 L389.4 58.4 L388.4 57.4M387.4 58.4 L386.3 57.5 L387.6 58.4 L388.1 59.5M398.2 67.4 L399.3 67.1 L399.1 67.6 L400.1 66.7M397.1 66.6 L397.3 65.7 L397.8 66.1M396.7 66.0 L396.0 65.9 L395.4 66.4 L396.6 65.8M399.7 66.6 L399.3 67.0 L398.5 66.8 L398.6 67.4M406.7 70.3 L406.5 70.3 L407.1 71.5 L408.0 72.2M412.3 71.9 L411.6 72.4 L412.9 73.5M410.6 70.8 L409.9 70.6 L409.2 69.8 L409.2 69.1M413.9 72.2 L412.7 73.4 L413.2 73.7 L412.1 74.7M424.1 74.3 L423.1 74.3 L423.5 74.0 L423.0 74.8M419.1 73.1 L418.7 74.1 L417.8 73.4 L416.6 73.9M425.2 74.2 L424.2 73.1 L424.3 73.1 L423.2 71.9M420.8 73.8 L419.7 72.6 L418.8 72.3M439.8 70.4 L440.7 71.7 L439.5 70.9 L439.3 72.1M438.3 72.1 L439.1 73.1 L439.3 73.4 L438.0 72.3M437.7 73.1 L438.0 72.1 L437.9 71.2M438.6 71.7 L438.9 71.4 L439.6 71.4 L439.6 70.8M445.9 69.3 L445.6 68.1 L445.2 69.2M446.6 68.8 L447.0 69.7 L447.8 70.2M444.4 69.2 L444.1 68.7 L445.1 69.2 L444.3 68.8M442.4 69.9 L443.4 70.3 L443.5 71.4 L443.9 72.1M446.6 66.6 L446.6 67.5 L447.1 67.6M443.9 65.3 L444.1 64.0 L444.3 64.8 L445.6 66.1M441.8 63.9 L442.8 63.5 L442.5 62.2 L443.5 61.0M444.8 65.5 L444.1 65.3 L445.2 65.1 L444.7 65.8M440.3 62.8 L439.6 61.8 L438.8 60.7M437.6 59.7 L437.7 60.1 L436.6 60.5 L436.4 60.1M435.2 58.6 L436.2 59.2 L437.1 59.4M440.5 62.9 L440.9 62.6 L440.1 62.0M433.2 56.9 L433.1 57.5 L433.2 58.4M428.9 52.4 L428.8 52.3 L427.6 52.2M430.0 54.5 L430.1 53.5 L429.1 52.3 L428.3 53.0M428.5 52.8 L427.9 51.9 L426.9 53.1 L426.2 52.8M422.5 41.0 L423.3 42.2 L422.7 43.4 L423.7 43.4M424.4 47.4 L423.7 47.9 L424.4 48.2M424.5 45.7 L424.6 44.6 L424.0 43.4 L423.2 43.1M423.4 43.0 L422.4 43.5 L421.1 43.1M422.8 33.2 L423.9 32.9 L423.8 33.2 L424.5 33.4M422.2 38.2 L422.5 37.3 L421.5 37.6 L421.8 36.3M422.1 33.3 L421.7 33.3 L420.5 33.2M422.9 33.8 L423.5 33.7 L422.6 33.1 L423.9 32.7M422.8 33.5 L421.6 33.9 L422.4 34.3 L423.5 35.5M417.3 28.1 L418.5 27.9 L417.7 27.2M421.1 31.1 L420.9 31.2 L420.2 31.9M418.2 27.7 L418.7 27.9 L419.3 26.6M414.6 22.6 L414.6 23.6 L414.9 23.6M415.4 18.0 L414.4 18.1 L413.9 18.9M416.2 17.3 L416.8 16.3 L417.6 16.0M415.5 24.6 L415.2 24.3 L415.7 24.8M411.6 8.2 L412.7 7.4 L412.7 8.4M414.0 12.2 L415.2 12.2 L415.8 13.2M415.0 13.9 L413.7 14.0 L415.0 15.0M415.1 15.3 L414.0 16.1 L415.3 14.9 L416.0 15.1M394.3 108.0 L394.3 108.6 L393.2 108.6M403.1 111.6 L402.8 110.3 L403.5 109.3 L402.2 109.9M403.6 111.6 L403.5 111.2 L402.3 111.2M401.7 110.4 L401.9 109.7 L401.8 110.3M409.8 114.0 L410.0 114.2 L410.7 114.4 L410.0 113.9M407.1 113.2 L407.6 114.0 L406.3 113.1 L405.4 114.4M412.8 114.6 L411.9 113.5 L412.2 113.5 L412.2 113.5M407.9 112.7 L408.2 112.8 L408.2 112.1M417.7 116.7 L417.9 117.5 L418.3 116.6M415.7 115.9 L415.9 117.1 L416.6 116.6M422.0 119.6 L423.2 119.4 L424.3 118.9M420.9 119.9 L421.7 120.1 L421.6 121.2M425.2 119.7 L426.2 118.5 L426.4 117.7M425.7 120.2 L425.2 121.4 L426.4 120.7 L426.3 120.6M428.3 121.8 L427.0 120.7 L426.7 121.2 L425.7 120.5M426.9 121.1 L427.2 122.4 L427.2 121.3 L426.4 122.5M437.6 118.7 L436.8 119.9 L437.1 119.6 L435.9 119.6M435.6 118.9 L435.3 118.8 L435.7 118.8M430.6 120.6 L430.1 121.0 L430.8 121.9M430.1 121.4 L430.5 122.3 L429.8 121.8 L430.9 120.5M441.1 119.0 L440.6 120.2 L441.1 118.9 L441.0 118.0M443.3 119.6 L444.1 119.9 L444.3 118.7M444.5 120.6 L444.1 120.8 L444.3 121.6 L445.4 121.0M443.6 119.5 L443.2 118.5 L442.8 118.8 L443.6 119.4M449.3 120.4 L450.2 120.6 L449.6 119.9M450.7 119.8 L451.0 120.2 L452.0 120.7M445.6 120.3 L444.8 120.8 L443.8 121.4 L444.9 122.3M447.9 120.6 L448.5 121.5 L448.7 122.0M452.6 120.5 L453.9 119.6 L454.3 119.5 L454.4 120.6M452.9 120.6 L452.5 120.6 L453.6 119.7 L453.5 120.9M453.8 122.0 L453.1 121.9 L453.5 121.8M455.0 122.1 L454.3 122.7 L453.6 122.9 L452.6 122.9M155.2 145.4 L155.2 146.5 L155.3 146.6 L156.7 147.8M155.4 148.0 L155.3 149.4 L155.7 148.8 L155.1 148.8M154.0 141.2 L155.0 140.5 L154.4 141.3 L153.7 142.4M155.2 143.8 L155.9 142.7 L155.4 141.9M153.3 142.5 L153.5 142.1 L154.0 143.3 L153.6 143.7M155.9 144.8 L154.8 144.2 L153.4 143.5M155.1 149.7 L155.4 150.6 L155.6 150.5 L156.7 150.4M155.6 148.7 L154.5 149.8 L153.0 149.9 L152.9 149.4M155.3 153.3 L156.0 153.2 L156.6 154.4 L157.9 153.7M156.5 149.8 L157.6 151.1 L157.6 149.7 L157.3 150.6M154.8 149.6 L155.1 149.0 L155.5 149.8 L156.9 150.7M156.0 151.8 L156.8 152.1 L156.8 153.1 L157.2 153.8M153.7 155.8 L154.0 154.9 L153.0 156.2M155.6 155.7 L157.1 156.3 L155.6 157.6 L155.3 158.8M153.2 159.2 L153.4 158.4 L153.6 158.9M153.6 157.7 L154.7 159.1 L155.5 160.1 L154.0 158.7M154.1 160.1 L154.7 158.9 L154.4 159.7M155.2 156.6 L154.5 155.6 L154.6 154.5M155.8 163.2 L154.3 161.8 L153.3 160.8M156.5 164.9 L156.5 165.2 L156.7 166.6M155.4 162.2 L156.9 161.7 L155.7 163.1 L156.2 164.5M155.8 162.0 L156.3 160.9 L155.3 162.1M157.0 164.9 L156.0 164.0 L157.2 163.8 L158.1 163.1M157.8 164.9 L158.1 165.6 L157.7 165.4M161.9 168.4 L160.9 167.6 L159.5 166.6 L159.2 166.5M158.8 167.2 L159.7 168.5 L159.5 167.5M162.2 170.5 L163.7 171.7 L163.8 171.4 L164.1 172.2M162.6 170.3 L161.6 171.7 L161.4 172.0 L162.7 172.6M159.1 167.1 L158.5 168.0 L159.7 169.2 L160.7 168.3M160.8 167.4 L161.9 168.7 L161.5 167.5 L160.1 167.0M163.4 174.0 L164.3 173.3 L162.9 174.1 L162.0 174.1M163.8 171.0 L163.8 170.5 L162.6 171.5 L163.1 172.4M164.3 172.5 L165.0 173.0 L164.3 174.4 L163.0 174.2M162.7 173.1 L161.6 172.1 L162.5 171.7 L161.9 171.1M163.5 171.7 L163.2 172.4 L164.3 171.5M162.9 170.4 L161.9 170.8 L161.3 169.8" fill="none" stroke="#000" stroke-width="0.8"/>
<path d="M34.2 45.5 l1.3 1.2 l-1.0 0.8M39.2 48.2 l2.1 0.7 l-0.9 0.6M36.9 47.7 l2.5 -0.2 l-0.5 0.4M34.7 47.5 l2.2 1.0 l-0.2 1.0M30.1 42.2 l2.3 1.0 l-0.2 0.4M43.3 51.5 l1.6 1.1 l-0.6 1.1M50.1 55.8 l1.8 0.5 l-1.0 0.7M50.4 56.2 l2.2 -0.3 l0.2 1.1M42.6 50.4 l1.2 0.6 l-1.0 0.4M45.8 55.4 l1.8 0.3 l0.3 0.4M57.9 60.9 l2.2 1.4 l-0.9 0.8M58.2 61.1 l1.5 1.5 l1.0 0.4M59.3 64.1 l1.5 0.7 l-0.9 0.6M59.0 62.8 l2.5 -0.3 l-0.3 1.1M57.9 61.8 l1.8 1.5 l0.1 0.3M71.5 68.7 l1.9 -0.1 l-0.1 0.6M63.6 65.6 l1.2 1.1 l-0.9 1.0M71.6 69.2 l2.4 -0.0 l0.5 0.7M65.2 67.4 l1.8 0.2 l0.7 0.6M70.0 67.5 l2.7 0.0 l-0.9 1.2M75.6 72.2 l3.0 0.7 l-1.0 0.4M76.0 70.7 l2.2 1.4 l-0.3 0.4M79.9 71.1 l1.2 0.6 l0.4 0.4M78.7 72.4 l2.5 0.3 l0.8 0.5M81.6 73.5 l2.8 0.5 l-0.8 0.3M90.2 76.1 l2.3 -0.3 l0.6 0.5M84.9 72.8 l1.9 0.6 l-0.2 0.5M89.7 78.1 l2.1 1.4 l-0.9 1.2M93.9 79.4 l2.0 0.6 l0.8 0.4M91.4 77.9 l1.6 0.9 l0.4 0.4M102.0 82.7 l2.0 0.8 l-0.9 0.8M98.7 82.6 l1.5 1.1 l0.5 0.9M103.8 82.1 l2.2 0.7 l0.4 0.7M95.7 79.3 l2.2 -0.1 l-0.9 0.6M99.7 82.0 l1.1 1.1 l-0.3 1.0" fill="none" stroke="#000" stroke-width="0.7"/>
<path d="M152.8 193.8 L155.6 195.0 L156.7 199.1 L163.6 200.6 L173.7 202.3 L177.2 202.6 L187.7 205.2 M194.2 188.9 L188.2 202.8 L187.7 205.2 L188.7 208.5 L185.0 211.8 L182.2 214.2 L181.9 217.2 L177.6 227.2 M198.9 189.9 L196.7 195.3 L197.1 199.0 L201.6 202.9 L202.3 204.8 L200.6 208.6 L202.4 211.3 L204.9 215.9 L206.4 218.3 L213.7 218.9 L216.1 219.6 L212.0 233.9 L210.4 239.7 L222.4 241.3 L232.4 242.5 L242.5 243.4 L252.7 244.1 M216.9 216.7 L229.6 218.5 L242.4 219.8 L255.3 220.8 M257.8 198.1 L252.7 244.1 L264.8 244.7 L264.5 250.7 L263.3 268.9 M255.9 215.4 L269.4 216.0 L282.9 216.2 L296.4 215.9 M291.9 198.7 L292.8 204.3 L294.6 209.9 L296.0 213.8 L296.4 215.9 L297.2 219.5 L298.0 230.0 L297.8 232.3 L298.4 235.8 L301.5 241.6 L303.3 247.0 L306.6 250.3 L308.7 253.2 L311.4 255.5 L312.8 268.2 L313.2 271.3 L314.3 271.2 L316.1 289.1 L319.9 292.9 L321.5 305.7 L325.2 305.4 L324.8 312.0 L324.0 314.1 M254.0 232.4 L264.7 232.9 L275.5 233.2 L286.2 233.2 L289.8 234.0 L295.0 234.5 L298.4 235.8 M298.0 230.0 L308.0 229.5 L317.9 228.8 L327.9 227.8 M137.8 215.9 L149.7 219.7 L161.9 223.3 L174.2 226.4 L186.7 229.3 L199.3 231.8 L212.0 233.9 M160.9 223.0 L152.3 239.7 L159.5 250.2 L167.4 260.8 L176.1 271.2 L177.8 276.1 L172.0 280.9 L170.3 285.0 M194.6 230.9 L184.3 260.0 L182.4 265.4 L177.9 265.1 L176.1 271.2 M222.4 241.3 L216.9 265.2 L208.7 300.4 M184.3 260.0 L200.0 262.8 L215.9 265.1 L232.0 266.8 L248.1 268.1 L264.3 268.9 L280.5 269.2 L296.7 268.9 L312.8 268.2 M256.7 268.6 L253.8 300.0 L240.7 299.2 L227.5 298.1 M264.5 250.7 L278.5 251.0 L292.5 250.8 L306.6 250.3 M256.7 271.7 L266.8 272.1 L276.9 272.2 L276.7 284.3 L282.4 286.6 L290.2 287.2 L296.7 288.3 L302.4 289.0 L308.8 287.8 L316.1 289.1 M313.2 271.3 L328.2 270.1 L343.1 268.6 L342.5 271.8 L346.8 271.3 M319.9 292.9 L330.2 292.1 L340.6 291.1 M319.7 210.0 L319.3 214.1 L317.6 217.1 L317.7 221.2 L325.8 225.1 L327.9 227.8 L332.3 233.3 L335.9 237.0 L332.1 242.3 L330.3 246.1 L333.8 251.1 L339.6 254.1 L342.1 259.4 L346.4 263.8 L349.0 264.7 L347.4 268.0 L346.8 271.3 L344.8 277.8 L341.2 284.6 L340.6 291.1 L343.1 297.3 L339.9 304.2 L353.9 302.6 L356.0 307.6 M303.3 247.0 L316.8 246.2 L330.1 245.0 M332.3 233.3 L340.6 232.2 L348.9 231.1 M351.6 235.1 L355.7 249.5 L356.3 254.3 L354.9 258.9 M351.6 235.1 L359.6 233.8 L367.5 232.4 L375.5 231.1 M367.5 232.4 L372.9 247.8 M395.1 233.2 L395.6 239.0 L391.6 244.4 L388.2 249.0 L381.8 248.2 L372.9 247.8 L370.1 250.8 L367.7 255.6 L358.3 257.8 L354.9 258.9 L353.1 263.5 L349.0 264.7 M347.4 268.0 L357.2 266.1 L371.4 263.8 L385.5 261.1 L398.1 258.4 L410.6 255.3 L423.0 252.0 L435.2 248.4 M344.8 277.8 L361.0 275.6 L377.1 273.0 L393.0 269.8 L397.9 267.4 L406.3 265.8 L408.9 267.5 L416.3 265.6 L426.6 269.2 M358.5 276.0 L364.8 305.1 M376.2 273.1 L383.5 285.5 L388.9 297.1 L390.6 298.8 L400.8 297.9 L411.0 296.8 L415.2 293.5 M369.7 300.4 L379.3 298.8 L388.9 297.1 M369.7 300.4 L371.7 304.7 M393.0 269.8 L399.5 275.0 L404.2 277.2 L409.0 279.4 L415.7 284.2 M398.4 258.5 L396.3 261.9 L392.5 264.7 L388.5 267.5 L385.0 271.5 M385.5 261.1 L393.6 255.5 L394.7 253.3 L396.7 254.7 L404.8 250.8 L406.0 244.7 L409.0 241.0 L411.2 237.5 L415.1 237.7 L415.2 236.3 L420.4 237.4 L422.6 240.7 L427.8 241.0 M394.7 253.3 L388.2 249.0 M391.5 225.6 L397.5 238.4 L411.4 234.7 L425.2 230.5 L429.9 237.4 L433.7 236.1 M415.2 236.3 L410.6 234.9 M395.1 223.0 L395.8 224.5 L408.1 221.1 L420.1 217.3 L425.9 219.6 L425.3 224.1 L429.7 226.2 L427.1 229.4 M425.9 219.6 L431.5 220.0 M432.9 219.5 L430.0 213.6 L428.8 209.5 L425.6 205.1 L420.5 197.9 M413.8 200.2 L421.8 197.4 L429.7 194.5 L431.0 192.0 L431.4 184.6 L431.1 177.8 L435.7 176.5 L439.1 176.9 L444.6 183.5 L448.3 185.2 L452.3 186.1 M429.7 194.5 L430.3 200.7 L432.2 206.6 L433.1 208.0 M428.8 209.6 L439.1 205.7 L441.1 204.0 M430.1 213.7 L441.3 209.5 M439.1 210.4 L441.8 214.2 M431.0 192.0 L440.5 202.7 M227.9 299.6 L215.6 298.3 L215.0 301.2 L204.4 299.9 L193.8 298.4 L181.2 292.5 L169.1 286.3 M319.7 210.0 L323.8 206.2 L331.3 201.9 L333.8 199.2 L338.0 195.8 L345.6 195.2 L350.4 199.0 L357.7 202.9 L359.7 205.4 M319.7 210.0 L326.4 208.8 L329.3 209.6 L334.2 207.5 L340.1 203.5 L340.9 206.3 L344.6 208.1 L348.9 207.7 L354.2 205.3 L359.2 205.5 M355.5 209.2 L350.4 210.7 L348.1 212.2 L346.0 216.7 L344.6 219.8 L347.9 217.5 L347.4 223.6 L347.5 228.3 L350.3 233.9 L352.6 235.6 L355.4 234.9 L357.7 230.3 L355.5 225.2 L353.7 221.3 L354.8 215.8 L357.5 213.5 L359.1 210.0 L359.8 209.6 L367.9 210.9 L369.3 213.0 L370.1 216.4 L369.1 218.5 L368.9 220.9 L372.9 217.7 L378.2 222.6 L378.9 224.9 L376.2 227.3 L376.5 228.8 L375.5 231.1 L381.1 231.8 L386.1 230.0 L391.8 225.8 L395.1 223.0 L398.2 218.5 L391.2 220.7 L385.6 223.3 L380.3 228.3 L376.7 228.7 M363.3 207.7 L370.7 204.9 L379.1 204.8 L385.2 206.8 L387.6 210.5 L381.2 212.1 L377.7 209.3 L379.3 214.4 L381.4 220.0 L378.5 222.5 M396.2 216.6 L401.8 214.7 L407.2 213.1 L410.8 210.7 L407.9 207.8 L402.7 210.7 L395.1 213.5 L392.1 217.4 L395.6 217.0 M407.9 207.8 L410.5 203.9 L413.8 200.2 M410.7 357.1 L422.8 347.2 L432.2 342.9 L445.1 340.6 L459.9 342.0 L475.0 343.0 L489.5 342.5 L506.6 340.8 L509.6 345.4 L495.7 350.4 L481.6 355.2 L474.4 351.0 L458.4 348.5 L442.2 348.8 L422.1 352.6 L410.7 357.1 M452.8 310.5 L448.7 314.5 L454.6 312.2 M457.0 321.8 L463.3 326.7 L457.9 325.2 L457.0 321.8 M461.8 310.7 L461.6 315.2 M467.7 316.4 L474.6 320.2 M481.2 320.4 L480.7 325.9 M485.9 325.0 L491.1 327.1 M501.2 329.1 L500.7 326.9 M511.6 335.8 L514.5 335.6" fill="none" stroke="#000" stroke-width="0.7" stroke-linejoin="round"/>
<path d="M164.7 183.7 L173.3 187.9 L182.3 191.9 L191.4 195.6 L200.8 199.2 L212.7 200.8 L224.7 202.2 L236.8 203.1 L246.9 205.0 L257.1 206.6 L267.4 207.9 L277.9 209.0 L286.6 210.3 L295.5 211.4 L304.5 212.3 L313.6 213.6 L322.9 214.7 L332.3 215.6 L343.6 216.0 L354.9 216.2 L366.4 216.0 L377.0 213.3 L387.5 210.2 L397.7 207.0 L407.8 203.5 L417.2 198.9 L426.3 194.0 L435.1 189.0 M148.8 200.3 L158.2 204.9 L167.9 209.3 L177.8 213.4 L188.0 217.4 L199.3 218.7 L210.6 219.7 L221.8 220.4 L234.4 223.9 L247.2 227.0 L260.3 229.8 L271.8 231.2 L283.3 232.2 L295.0 233.0 L308.7 234.3 L322.7 235.2 L336.8 235.7 L349.0 236.1 L361.4 236.1 L373.8 235.8 L387.1 231.9 L400.0 227.6 L412.7 222.9 L422.6 217.6 L432.3 212.0 L441.5 206.3 M135.5 221.6 L146.2 226.1 L157.1 230.4 L168.2 234.4 L182.3 236.6 L196.5 238.4 L210.7 239.7 L224.3 243.6 L238.1 247.0 L252.3 250.1 L264.7 251.7 L277.2 253.0 L289.8 253.9 L304.7 255.4 L319.8 256.5 L335.0 257.1 L348.0 256.6 L361.0 255.7 L374.0 254.4 L388.3 250.5 L402.3 246.1 L416.0 241.3 M134.0 247.5 L145.9 252.1 L158.1 256.4 L170.5 260.4 L184.2 261.1 L197.9 261.4 L211.4 261.3 L224.0 265.0 L236.9 268.3 L250.0 271.3 L263.4 273.0 L276.9 274.3 L290.5 275.3 L304.3 276.5 L318.2 277.4 L332.2 277.9 L346.0 276.8 L359.8 275.4 L373.5 273.6 L386.6 270.1 L399.5 266.2 L412.2 262.0 L424.7 257.6 L436.9 252.9 M156.4 276.8 L167.4 280.4 L178.7 283.7 L190.1 286.8 L202.3 287.6 L214.4 288.1 L226.5 288.4 L240.6 290.6 L254.9 292.5 L269.3 294.1 L283.9 295.3 L298.5 296.1 L313.2 296.5 L328.0 296.6 L342.9 296.2 L357.7 295.5 L369.7 293.3 L381.6 290.9 L393.4 288.2 L406.8 283.3 L419.9 278.1 M245.4 312.6 L258.2 314.3 L271.1 315.7 L284.1 316.9 L297.0 315.6 L309.9 314.0 L322.6 312.2 L337.9 310.3 L353.0 308.0 L365.7 306.7 L378.4 305.2 L391.1 303.4 L402.9 302.8 L414.7 301.9 M157.7 190.7 L158.5 209.7 L152.3 226.9 L152.4 246.3 L155.0 263.2 M206.8 197.4 L211.7 215.9 L216.2 225.5 L221.1 235.2 L229.4 254.3 L236.1 273.4 L233.1 292.2" fill="none" stroke="#000" stroke-width="0.5" stroke-dasharray="2.2 1.8" opacity="0.8"/>
<path d="M92.5 1.7 L93.6 6.7 L99.1 6.1 L104.7 2.8 L108 0.6 M108 0.6 L110.3 4.5 L118 6.1 L141.5 1.1 L130.3 15 L125.9 26.2 M118 6.1 L115.8 9.5 L117 12.8 L112.5 17.3 L111.4 21.7 L115.8 22.9 L120.3 21.7 L124.8 25.6 L128.1 24 L130.3 20.6 L129.2 16.2 L124.8 17.3 M107 26.5 L110 26.5 L109.5 33 L107 33.5Z M152 0.5 A2.8 2.2 0 1 0 157 3 A2.8 2.2 0 1 0 152 0.5" fill="none" stroke="#000" stroke-width="0.6"/>
<text class="mono" x="304.1" y="355.5" font-size="7.9" stroke="#000" stroke-width="0.3" fill="#000" textLength="216.6" lengthAdjust="spacingAndGlyphs" xml:space="preserve">DASHED BLACK LINES ARE CLIMATOLOGY</text>
<text class="mono" x="304.1" y="361.1" font-size="7.9" stroke="#000" stroke-width="0.3" fill="#000" textLength="184.7" lengthAdjust="spacingAndGlyphs" xml:space="preserve">(DEG F) SHADED AREAS ARE FCST</text>
<text class="mono" x="304.1" y="367.6" font-size="7.9" stroke="#000" stroke-width="0.3" fill="#000" textLength="229.3" lengthAdjust="spacingAndGlyphs" xml:space="preserve">VALUES ABOVE (A) OR BELOW (B) NORMAL</text>
<text class="mono" x="304.1" y="373.9" font-size="7.9" stroke="#000" stroke-width="0.3" fill="#000" textLength="165.6" lengthAdjust="spacingAndGlyphs" xml:space="preserve">GRAY AREAS ARE NEAR-NORMAL</text>
<g>
<clipPath id="lgc"><ellipse cx="32.2" cy="312.4" rx="26.2" ry="18"/></clipPath>
<ellipse cx="32.2" cy="312" rx="28.4" ry="20.6" fill="none" stroke="#666" stroke-width="2.6" stroke-dasharray="0.9 0.7"/>
<g clip-path="url(#lgc)">
<rect x="0" y="290" width="64" height="45" fill="#0f69b4"/>
<path d="M0 290 H64 V303.5 L57.7 304.4 L53.6 303 L46.6 307.9 L39.7 313.4 L32 316.9 L24.4 313.4 L16.1 307.9 L8.4 305.1 L0 303Z" fill="#1f2070"/>
<path d="M4 302.5 L8.4 304.1 L16.1 306.9 L24.4 312.4 L32 315.9 L39.7 312.4 L46.6 306.9 L53.6 302 L58.5 303.4 L58.5 305.6 L52 307.5 L45 312 L40 316 L42.4 315.5 L38 318 L30 320.5 L26 321.5 L29.3 319.2 L23 318 L14.7 314 L6.3 310 L3 308Z" fill="#fff"/>
</g>
<text x="31.2" y="305.8" font-size="6.8" font-weight="bold" fill="#fff" text-anchor="middle" textLength="22" lengthAdjust="spacingAndGlyphs">NOAA</text>
</g>
</g>
<g id="legend">
<rect x="1.50" y="382.6" width="36.67" height="16.4" fill="#1c1142"/>
<rect x="37.87" y="382.6" width="36.67" height="16.4" fill="#231955"/>
<rect x="74.25" y="382.6" width="36.67" height="16.4" fill="#2e3e72"/>
<rect x="110.62" y="382.6" width="36.67" height="16.4" fill="#045c9f"/>
<rect x="146.99" y="382.6" width="36.67" height="16.4" fill="#309bd9"/>
<rect x="183.37" y="382.6" width="36.67" height="16.4" fill="#76b5e2"/>
<rect x="219.74" y="382.6" width="36.67" height="16.4" fill="#a0c3e3"/>
<rect x="256.11" y="382.6" width="36.67" height="16.4" fill="#b2b2b2"/>
<rect x="292.49" y="382.6" width="36.67" height="16.4" fill="#e9b262"/>
<rect x="328.86" y="382.6" width="36.67" height="16.4" fill="#e68b47"/>
<rect x="365.23" y="382.6" width="36.67" height="16.4" fill="#dc5a2e"/>
<rect x="401.61" y="382.6" width="36.67" height="16.4" fill="#c82a26"/>
<rect x="437.98" y="382.6" width="36.67" height="16.4" fill="#d22c48"/>
<rect x="474.35" y="382.6" width="36.67" height="16.4" fill="#882b39"/>
<rect x="510.73" y="382.6" width="36.67" height="16.4" fill="#62202a"/>
<text x="39.4" y="408.3" font-size="7.6" fill="#3c3c3c" text-anchor="middle" textLength="19" lengthAdjust="spacingAndGlyphs">90%</text>
<text x="75.7" y="408.3" font-size="7.6" fill="#3c3c3c" text-anchor="middle" textLength="19" lengthAdjust="spacingAndGlyphs">80%</text>
<text x="112.1" y="408.3" font-size="7.6" fill="#3c3c3c" text-anchor="middle" textLength="19" lengthAdjust="spacingAndGlyphs">70%</text>
<text x="148.5" y="408.3" font-size="7.6" fill="#3c3c3c" text-anchor="middle" textLength="19" lengthAdjust="spacingAndGlyphs">60%</text>
<text x="184.9" y="408.3" font-size="7.6" fill="#3c3c3c" text-anchor="middle" textLength="19" lengthAdjust="spacingAndGlyphs">50%</text>
<text x="221.2" y="408.3" font-size="7.6" fill="#3c3c3c" text-anchor="middle" textLength="19" lengthAdjust="spacingAndGlyphs">40%</text>
<text x="257.6" y="408.3" font-size="7.6" fill="#3c3c3c" text-anchor="middle" textLength="19" lengthAdjust="spacingAndGlyphs">33%</text>
<text x="294.0" y="408.3" font-size="7.6" fill="#3c3c3c" text-anchor="middle" textLength="19" lengthAdjust="spacingAndGlyphs">33%</text>
<text x="330.4" y="408.3" font-size="7.6" fill="#3c3c3c" text-anchor="middle" textLength="19" lengthAdjust="spacingAndGlyphs">40%</text>
<text x="366.7" y="408.3" font-size="7.6" fill="#3c3c3c" text-anchor="middle" textLength="19" lengthAdjust="spacingAndGlyphs">50%</text>
<text x="403.1" y="408.3" font-size="7.6" fill="#3c3c3c" text-anchor="middle" textLength="19" lengthAdjust="spacingAndGlyphs">60%</text>
<text x="439.5" y="408.3" font-size="7.6" fill="#3c3c3c" text-anchor="middle" textLength="19" lengthAdjust="spacingAndGlyphs">70%</text>
<text x="475.9" y="408.3" font-size="7.6" fill="#3c3c3c" text-anchor="middle" textLength="19" lengthAdjust="spacingAndGlyphs">80%</text>
<text x="512.2" y="408.3" font-size="7.6" fill="#3c3c3c" text-anchor="middle" textLength="19" lengthAdjust="spacingAndGlyphs">90%</text>
<text x="131.5" y="423.6" font-size="8.6" font-weight="bold" fill="#333" text-anchor="middle" textLength="92" lengthAdjust="spacingAndGlyphs">Probability of Below</text>
<text x="420.5" y="423.6" font-size="8.6" font-weight="bold" fill="#333" text-anchor="middle" textLength="92" lengthAdjust="spacingAndGlyphs">Probability of Above</text>
<text x="276.3" y="421.8" font-size="5.6" font-weight="bold" fill="#333" text-anchor="middle" textLength="25" lengthAdjust="spacingAndGlyphs">Normal</text>
<path d="M257.5 414v17 M294 414v17" stroke="#555" stroke-width="0.8" stroke-dasharray="1.2 1"/>
</g>
</defs>
<rect width="1113" height="504" fill="#000"/>
<text x="6" y="16.7" fill="#fff" font-size="19" textLength="115" lengthAdjust="spacingAndGlyphs">US Outlook</text>
<text x="311" y="16.5" fill="#ff9a1f" font-size="19" textLength="87" lengthAdjust="spacingAndGlyphs">Measure</text>
<text x="433" y="16.5" fill="#ff9a1f" font-size="19" textLength="135" lengthAdjust="spacingAndGlyphs">Temperature</text>
<text x="433" y="39.7" fill="#ff9a1f" font-size="19" textLength="135" lengthAdjust="spacingAndGlyphs">Precipitation</text>
<text x="649" y="16.5" fill="#ff9a1f" font-size="19" textLength="62" lengthAdjust="spacingAndGlyphs">Range</text>
<text x="747.5" y="16.5" fill="#ff9a1f" font-size="19" textLength="95" lengthAdjust="spacingAndGlyphs">6-10 Day</text>
<text x="747.5" y="39.7" fill="#ff9a1f" font-size="19" textLength="95" lengthAdjust="spacingAndGlyphs">8-14 Day</text>
<text x="770.5" y="61.6" fill="#f4f8ff" font-size="19" textLength="125.5" lengthAdjust="spacingAndGlyphs">08/03/2020</text>
<ellipse cx="414.2" cy="10.2" rx="6.8" ry="5.1" fill="none" stroke="#3399ff" stroke-width="3.8"/>
<ellipse cx="414" cy="32.8" rx="8.4" ry="6.5" fill="#555"/>
<rect x="718" y="-2" width="159.5" height="22.5" fill="none" stroke="#2a74d8" stroke-width="1.3"/>
<ellipse cx="728.4" cy="10.2" rx="6.6" ry="5.1" fill="none" stroke="#3399ff" stroke-width="3.8"/>
<ellipse cx="728.3" cy="32.8" rx="8.2" ry="6.5" fill="#555"/>
<rect x="188" y="45" width="147" height="21.5" fill="#ff9a1f"/>
<text x="193.5" y="61.7" fill="#000" font-size="19" textLength="124.5" lengthAdjust="spacingAndGlyphs">08/02/2020</text>
<rect x="336" y="45" width="21" height="21.5" fill="#3c3c3c"/>
<path d="M340.7 52.2h12.6v7.6h-12.6z M340.7 52.6h12.6 M342.6 50v2 M351.4 50v2" fill="none" stroke="#c8c8c8" stroke-width="1.5"/>
<path d="M185.5 50 L178 56 L185.5 62" fill="none" stroke="#fff" stroke-width="2"/>
<path d="M364.5 50 L372 56 L364.5 62" fill="none" stroke="#fff" stroke-width="2"/>
<g transform="translate(2,67)" clip-path="url(#cp)">
<rect width="548" height="433" fill="#fff"/>
<clipPath id="usclip"><path d="M155.9 177.4 L160.0 174.0 L167.0 176.2 L173.7 182.4 L184.8 185.7 L196.0 189.1 L207.1 190.7 L218.3 192.6 L229.4 194.4 L242.0 195.7 L258.4 197.3 L271.8 197.8 L288.0 196.4 L300.3 196.4 L301.9 194.2 L303.6 197.5 L310.3 198.6 L317.0 199.2 L324.8 198.6 L330.3 198.1 L334.8 193.6 L340.4 192.5 L345.9 193.0 L349.3 196.4 L354.8 196.4 L358.2 200.3 L360.4 203.1 L366.0 204.2 L372.7 204.2 L377.1 203.1 L381.6 203.6 L386.0 205.9 L387.2 208.1 L382.7 208.1 L381.0 211.4 L381.0 217.0 L379.4 221.4 L381.6 223.7 L386.0 221.4 L391.6 215.9 L395.0 212.5 L399.4 209.2 L405.0 204.7 L412.0 199.2 L415.0 198.1 L421.7 193.9 L428.3 191.4 L430.0 183.1 L430.0 175.5 L435.0 173.4 L440.0 175.5 L445.1 179.7 L450.9 183.1 L448.4 188.1 L443.4 191.4 L441.7 197.3 L443.4 203.1 L449.2 203.9 L448.4 208.1 L441.7 209.0 L436.7 211.5 L433.4 218.1 L431.7 223.2 L434.2 227.3 L431.7 233.2 L433.8 241.9 L437.2 247.5 L440.5 251.4 L437.2 256.4 L432.7 260.9 L428.2 266.4 L424.9 272.0 L420.4 278.7 L417.1 284.2 L416.0 289.0 L418.2 293.0 L422.7 298.6 L428.2 304.2 L433.8 309.7 L438.3 315.3 L440.5 320.9 L439.4 325.3 L436.0 328.7 L432.7 327.0 L429.4 324.2 L424.9 320.9 L420.4 317.5 L416.0 314.2 L412.6 310.9 L409.3 306.4 L404.8 303.6 L400.4 301.4 L395.9 301.9 L391.5 304.2 L387.0 303.1 L382.6 301.9 L377.0 301.9 L370.3 304.2 L364.7 306.4 L362.5 312.0 L356.9 313.1 L349.1 315.3 L344.7 313.6 L338.0 312.0 L332.7 311.9 L326.0 313.1 L318.2 314.2 L313.8 317.5 L307.1 320.9 L301.5 325.3 L299.3 328.7 L300.4 333.1 L301.5 337.6 L300.4 340.3 L292.6 339.2 L285.9 337.6 L282.6 334.2 L280.3 329.8 L275.9 325.3 L271.4 319.7 L268.1 315.3 L261.4 314.7 L256.9 316.4 L252.5 319.2 L248.0 317.5 L243.6 314.2 L241.3 309.7 L238.0 306.4 L232.7 302.5 L230.5 299.2 L218.2 298.6 L216.0 300.3 L211.5 300.9 L204.8 300.5 L195.9 298.6 L187.0 295.3 L180.3 292.0 L174.8 289.2 L171.4 286.4 L162.5 284.7 L154.7 283.0 L152.5 281.4 L146.9 275.8 L141.3 270.2 L138.1 264.2 L136.4 256.4 L135.3 249.7 L133.6 241.9 L131.4 234.1 L130.3 226.3 L132.5 223.6 L136.9 216.9 L142.0 210.2 L147.0 202.4 L151.4 195.7 L155.9 190.2 L155.3 183.5Z"/></clipPath>
<g clip-path="url(#usclip)">
<path d="M155.9 177.4 L160.0 174.0 L167.0 176.2 L173.7 182.4 L184.8 185.7 L196.0 189.1 L207.1 190.7 L218.3 192.6 L229.4 194.4 L242.0 195.7 L258.4 197.3 L271.8 197.8 L288.0 196.4 L300.3 196.4 L301.9 194.2 L303.6 197.5 L310.3 198.6 L317.0 199.2 L324.8 198.6 L330.3 198.1 L334.8 193.6 L340.4 192.5 L345.9 193.0 L349.3 196.4 L354.8 196.4 L358.2 200.3 L360.4 203.1 L366.0 204.2 L372.7 204.2 L377.1 203.1 L381.6 203.6 L386.0 205.9 L387.2 208.1 L382.7 208.1 L381.0 211.4 L381.0 217.0 L379.4 221.4 L381.6 223.7 L386.0 221.4 L391.6 215.9 L395.0 212.5 L399.4 209.2 L405.0 204.7 L412.0 199.2 L415.0 198.1 L421.7 193.9 L428.3 191.4 L430.0 183.1 L430.0 175.5 L435.0 173.4 L440.0 175.5 L445.1 179.7 L450.9 183.1 L448.4 188.1 L443.4 191.4 L441.7 197.3 L443.4 203.1 L449.2 203.9 L448.4 208.1 L441.7 209.0 L436.7 211.5 L433.4 218.1 L431.7 223.2 L434.2 227.3 L431.7 233.2 L433.8 241.9 L437.2 247.5 L440.5 251.4 L437.2 256.4 L432.7 260.9 L428.2 266.4 L424.9 272.0 L420.4 278.7 L417.1 284.2 L416.0 289.0 L418.2 293.0 L422.7 298.6 L428.2 304.2 L433.8 309.7 L438.3 315.3 L440.5 320.9 L439.4 325.3 L436.0 328.7 L432.7 327.0 L429.4 324.2 L424.9 320.9 L420.4 317.5 L416.0 314.2 L412.6 310.9 L409.3 306.4 L404.8 303.6 L400.4 301.4 L395.9 301.9 L391.5 304.2 L387.0 303.1 L382.6 301.9 L377.0 301.9 L370.3 304.2 L364.7 306.4 L362.5 312.0 L356.9 313.1 L349.1 315.3 L344.7 313.6 L338.0 312.0 L332.7 311.9 L326.0 313.1 L318.2 314.2 L313.8 317.5 L307.1 320.9 L301.5 325.3 L299.3 328.7 L300.4 333.1 L301.5 337.6 L300.4 340.3 L292.6 339.2 L285.9 337.6 L282.6 334.2 L280.3 329.8 L275.9 325.3 L271.4 319.7 L268.1 315.3 L261.4 314.7 L256.9 316.4 L252.5 319.2 L248.0 317.5 L243.6 314.2 L241.3 309.7 L238.0 306.4 L232.7 302.5 L230.5 299.2 L218.2 298.6 L216.0 300.3 L211.5 300.9 L204.8 300.5 L195.9 298.6 L187.0 295.3 L180.3 292.0 L174.8 289.2 L171.4 286.4 L162.5 284.7 L154.7 283.0 L152.5 281.4 L146.9 275.8 L141.3 270.2 L138.1 264.2 L136.4 256.4 L135.3 249.7 L133.6 241.9 L131.4 234.1 L130.3 226.3 L132.5 223.6 L136.9 216.9 L142.0 210.2 L147.0 202.4 L151.4 195.7 L155.9 190.2 L155.3 183.5Z" fill="#b2b2b2"/>
<path d="M151.4 196.3 C157.2 197.4 153.5 200.3 154.8 202.4 C156.1 204.5 157.7 206.9 159.2 209.1 C160.7 211.3 162.4 213.6 163.7 215.8 C165.0 218.0 165.9 220.6 167.0 222.5 C168.1 224.4 169.7 225.6 170.4 227.5 C171.2 229.4 171.9 232.1 171.5 234.1 C171.1 236.1 169.8 238.1 168.1 239.7 C166.4 241.3 164.2 242.6 161.4 243.6 C158.6 244.6 154.6 245.2 151.4 245.8 C148.2 246.4 145.3 246.6 142.5 247.0 C139.7 247.4 138.4 247.6 134.7 248.1 C130.9 248.6 122.5 258.7 120.0 250.0 C117.5 241.3 114.8 204.9 120.0 196.0 C125.2 187.1 145.6 195.2 151.4 196.3Z" fill="#e9b262"/>
<ellipse cx="143.5" cy="224.4" rx="14.6" ry="9.2" fill="#e68b47"/>
<path d="M155.9 193.0 C157.6 194.3 158.6 195.9 160.3 198.0 C162.0 200.1 164.0 203.2 165.9 205.8 C167.8 208.4 170.0 211.2 171.5 213.6 C173.0 216.0 173.8 218.3 174.8 220.2 C175.8 222.1 176.7 223.4 177.5 225.0 C178.3 226.6 179.3 227.8 179.8 229.7 C180.3 231.6 180.7 234.4 180.4 236.4 C180.1 238.4 179.7 240.2 178.2 241.9 C176.7 243.6 174.1 244.9 171.5 246.4 C168.9 247.9 165.9 249.7 162.6 250.9 C159.2 252.1 155.1 252.9 151.4 253.6 C147.7 254.2 144.2 254.4 140.3 254.8 C136.4 255.2 130.6 250.1 128.0 256.0 C125.5 261.9 119.7 284.0 125.0 290.0 C130.3 296.0 152.3 292.8 160.0 292.0 C167.7 291.2 168.8 287.5 171.4 285.3 C174.1 283.1 174.8 280.6 175.9 279.0 C177.0 277.4 177.3 276.9 178.2 275.4 C179.1 273.9 180.4 271.7 181.5 269.8 C182.6 267.9 183.5 266.2 184.8 264.2 C186.1 262.1 187.8 259.7 189.3 257.5 C190.8 255.3 191.6 253.1 193.8 250.9 C196.0 248.7 199.5 246.1 202.7 244.2 C205.8 242.3 209.4 242.1 212.7 239.7 C216.0 237.3 219.8 232.7 222.6 229.7 C225.4 226.7 227.2 224.7 229.3 221.9 C231.4 219.1 233.3 216.0 234.9 213.0 C236.5 210.0 237.9 206.9 239.0 204.0 C240.1 201.1 241.2 201.6 241.7 195.6 C242.2 189.6 257.3 172.6 242.0 168.0 C226.7 163.4 165.3 164.3 150.0 168.0 C134.7 171.7 149.0 185.8 150.0 190.0 C151.0 194.2 154.2 191.7 155.9 193.0Z" fill="#a0c3e3"/>
<path d="M168.1 180.1 C168.5 183.6 169.7 186.3 170.4 189.1 C171.2 191.9 171.7 194.3 172.6 196.9 C173.5 199.5 174.6 202.1 175.9 204.7 C177.2 207.3 179.1 210.0 180.4 212.4 C181.7 214.8 182.4 216.8 183.7 219.1 C185.0 221.4 186.3 224.1 188.0 226.0 C189.7 227.9 191.7 229.5 194.0 230.5 C196.3 231.5 199.3 232.1 201.6 232.0 C203.9 231.9 206.2 231.2 208.0 230.0 C209.8 228.8 211.4 226.6 212.7 225.0 C214.0 223.4 214.7 221.7 216.0 220.2 C217.3 218.7 219.0 217.7 220.5 215.8 C222.0 214.0 223.9 211.3 225.0 209.1 C226.1 206.9 226.8 204.9 227.2 202.4 C227.6 199.9 227.6 199.8 227.7 194.1 C227.8 188.4 237.9 172.3 228.0 168.0 C218.1 163.7 178.0 166.0 168.0 168.0 C158.0 170.0 167.7 176.6 168.1 180.1Z" fill="#76b5e2"/>
<circle cx="202.1" cy="201.9" r="10" fill="#309bd9"/>
<path d="M139.2 266.4 C142.2 266.1 143.3 264.9 145.9 264.2 C148.5 263.5 152.0 262.4 154.8 262.0 C157.6 261.6 160.4 261.4 162.6 262.0 C164.8 262.6 166.6 264.0 168.1 265.3 C169.6 266.6 170.8 268.1 171.5 269.8 C172.2 271.5 172.6 273.9 172.6 275.4 C172.6 276.9 172.3 277.6 171.5 279.0 C170.7 280.4 169.9 281.8 168.0 284.0 C166.1 286.2 166.3 290.7 160.0 292.0 C153.7 293.3 135.3 296.3 130.0 292.0 C124.7 287.7 126.5 270.3 128.0 266.0 C129.5 261.7 136.2 266.7 139.2 266.4Z" fill="#76b5e2"/>
<path d="M247.1 213.0 C245.5 215.3 244.5 217.3 242.7 219.7 C240.8 222.1 238.1 224.9 236.0 227.5 C233.9 230.1 232.2 233.1 230.4 235.3 C228.6 237.5 227.0 238.8 225.0 240.8 C223.0 242.8 220.9 245.6 218.3 247.5 C215.7 249.4 212.4 250.5 209.4 252.0 C206.4 253.5 203.0 254.9 200.4 256.4 C197.8 257.9 195.8 259.2 193.8 260.9 C191.8 262.6 189.9 264.5 188.2 266.4 C186.5 268.2 185.0 269.9 183.7 272.0 C182.4 274.1 182.1 276.6 180.4 279.0 C178.7 281.4 175.1 282.9 173.7 286.4 C172.3 289.9 150.9 289.4 172.0 300.0 C193.1 310.6 250.3 343.3 300.0 350.0 C349.7 356.7 441.7 371.7 470.0 340.0 C498.3 308.3 505.3 190.0 470.0 160.0 C434.7 130.0 293.4 153.8 258.0 160.0 C222.6 166.2 258.6 189.6 257.6 197.3 C256.6 205.0 253.8 203.4 252.0 206.0 C250.2 208.6 248.7 210.7 247.1 213.0Z" fill="#e9b262"/>
<path d="M268.1 197.2 C266.9 204.9 264.0 203.0 262.0 206.0 C260.0 209.0 257.2 212.2 256.0 215.2 C254.8 218.2 255.5 221.3 254.9 224.1 C254.3 226.9 254.2 229.5 252.7 231.9 C251.2 234.3 248.4 236.7 246.0 238.6 C243.6 240.5 240.5 241.1 238.2 243.1 C235.9 245.1 234.2 248.5 232.0 250.5 C229.8 252.5 227.7 253.6 225.0 255.3 C222.3 257.0 219.0 259.4 216.0 260.9 C213.0 262.4 209.7 262.9 207.1 264.2 C204.5 265.5 202.4 267.0 200.4 268.7 C198.4 270.4 196.6 272.5 194.9 274.2 C193.2 275.9 192.1 277.2 190.4 279.0 C188.7 280.8 186.3 282.6 184.8 284.7 C183.3 286.8 182.2 288.0 181.4 291.4 C180.6 294.8 160.2 295.2 180.0 305.0 C199.8 314.8 251.7 344.2 300.0 350.0 C348.3 355.8 441.7 371.7 470.0 340.0 C498.3 308.3 503.5 190.0 470.0 160.0 C436.5 130.0 302.6 153.8 269.0 160.0 C235.3 166.2 269.3 189.5 268.1 197.2Z" fill="#e68b47"/>
<path d="M291.5 198.0 C290.3 205.4 287.4 202.2 284.8 204.7 C282.2 207.2 279.4 210.1 276.1 213.0 C272.8 215.9 268.4 218.8 265.0 221.9 C261.6 225.1 257.9 229.1 256.0 231.9 C254.1 234.7 254.9 236.4 253.8 238.6 C252.7 240.8 251.2 243.1 249.4 245.3 C247.6 247.5 244.9 249.6 242.7 252.0 C240.5 254.4 238.2 257.6 236.0 259.8 C233.8 262.0 232.0 263.8 229.3 265.4 C226.6 267.0 223.3 268.1 220.0 269.5 C216.7 270.9 212.6 272.0 209.3 273.6 C206.0 275.2 202.8 277.1 200.4 279.1 C198.0 281.1 196.1 283.6 194.8 285.8 C193.5 288.0 193.0 289.3 192.6 292.5 C192.2 295.7 174.7 295.4 192.6 305.0 C210.5 314.6 253.8 344.2 300.0 350.0 C346.2 355.8 441.7 371.7 470.0 340.0 C498.3 308.3 499.7 190.0 470.0 160.0 C440.3 130.0 321.8 153.7 292.0 160.0 C262.2 166.3 292.7 190.6 291.5 198.0Z" fill="#dc5a2e"/>
<path d="M292.6 299.0 C293.9 297.1 294.1 295.7 294.8 294.2 C295.5 292.7 296.1 291.5 297.0 289.8 C297.9 288.1 299.1 285.9 300.4 284.2 C301.7 282.5 302.6 280.7 304.8 279.8 C307.0 278.9 310.8 278.7 313.8 278.7 C316.8 278.7 319.9 279.2 322.7 279.8 C325.5 280.4 328.1 280.9 330.5 282.0 C332.9 283.1 335.5 284.9 337.2 286.4 C338.9 287.9 339.8 289.8 340.5 290.9 C341.2 292.0 340.9 292.1 341.6 293.0 C342.4 293.9 343.3 295.2 345.0 296.3 C346.7 297.4 349.4 298.6 351.6 299.7 C353.8 300.8 356.5 301.9 358.3 303.0 C360.1 304.1 360.9 303.2 362.5 306.4 C364.1 309.6 378.4 315.1 368.0 322.0 C357.6 328.9 317.7 348.0 300.0 348.0 C282.3 348.0 267.3 327.6 262.0 322.0 C256.7 316.4 266.2 316.3 268.1 314.7 C270.1 313.1 271.7 313.3 273.7 312.5 C275.7 311.7 278.1 310.9 280.3 309.7 C282.5 308.5 284.9 307.1 287.0 305.3 C289.1 303.5 291.3 300.9 292.6 299.0Z" fill="#e68b47"/>
<path d="M279.2 326.4 C280.8 325.1 282.8 327.1 284.8 327.0 C286.9 326.9 289.3 326.4 291.5 325.9 C293.7 325.4 296.0 324.8 298.2 324.2 C300.4 323.6 302.6 322.9 304.8 322.0 C307.0 321.1 309.3 319.8 311.5 318.6 C313.7 317.4 315.9 313.6 318.2 314.7 C320.4 315.8 328.0 319.4 325.0 325.0 C322.0 330.6 308.3 346.3 300.0 348.0 C291.7 349.7 278.5 338.6 275.0 335.0 C271.5 331.4 277.6 327.7 279.2 326.4Z" fill="#e9b262"/>
<path d="M346.0 268.5 C346.2 267.8 345.6 267.7 348.0 266.4 C350.4 265.1 356.0 262.8 360.3 260.9 C364.6 259.0 369.2 257.4 373.7 255.3 C378.1 253.2 382.9 250.7 387.0 248.6 C391.1 246.5 395.2 244.7 398.2 243.0 C401.2 241.3 402.7 239.9 405.0 238.5 C407.3 237.1 409.5 235.6 412.0 234.5 C414.5 233.4 417.3 232.6 420.0 232.0 C422.7 231.4 424.7 231.2 428.0 231.0 C431.3 230.8 436.0 227.0 440.0 231.0 C444.0 235.0 450.8 238.2 452.0 255.0 C453.2 271.8 451.5 318.5 447.0 332.0 C442.5 345.5 429.4 338.6 425.0 336.0 C420.6 333.4 421.3 320.6 420.4 316.4 C419.4 312.2 419.7 312.8 419.3 310.9 C418.9 309.0 418.8 307.2 418.2 305.3 C417.6 303.4 417.1 301.6 416.0 299.7 C414.9 297.8 413.4 296.0 411.5 294.1 C409.6 292.2 406.7 289.7 404.8 288.6 C402.9 287.5 402.2 288.3 400.4 287.6 C398.5 286.9 396.3 285.3 393.7 284.2 C391.1 283.1 387.8 282.0 384.8 280.9 C381.8 279.8 379.0 278.4 375.9 277.6 C372.8 276.8 370.0 276.5 365.9 275.9 C361.8 275.3 354.6 275.0 351.4 274.2 C348.2 273.4 347.8 271.8 346.9 270.9 C346.0 269.9 345.8 269.2 346.0 268.5Z" fill="#e68b47"/>
<path d="M403.7 258.6 C404.1 256.8 406.9 255.1 409.3 254.2 C411.7 253.3 415.8 252.5 418.2 253.1 C420.6 253.7 422.5 255.8 423.8 257.5 C425.1 259.2 425.8 261.2 426.0 263.1 C426.2 265.0 425.8 267.3 424.9 268.7 C424.0 270.1 422.2 271.2 420.4 271.4 C418.5 271.6 416.0 270.8 413.8 269.8 C411.6 268.8 408.8 267.2 407.1 265.3 C405.4 263.4 403.3 260.5 403.7 258.6Z" fill="#e9b262"/>
<path d="M249.4 268.0 C247.6 269.4 242.0 271.0 238.3 272.5 C234.6 274.0 230.4 275.2 227.1 276.9 C223.8 278.6 220.6 280.6 218.2 282.5 C215.8 284.4 213.9 286.1 212.6 288.1 C211.3 290.1 210.8 291.7 210.4 294.7 C210.0 297.7 206.3 303.1 210.4 306.0 C214.5 308.9 230.4 311.9 235.0 312.0 C239.6 312.1 236.6 307.5 238.0 306.9 C239.4 306.3 241.2 308.5 243.6 308.6 C246.0 308.7 249.5 308.2 252.5 307.5 C255.5 306.8 258.6 305.6 261.4 304.1 C264.2 302.6 267.0 300.5 269.2 298.6 C271.4 296.8 273.5 294.1 274.8 293.0 C276.1 291.9 276.2 293.5 277.0 292.0 C277.8 290.5 279.3 286.8 279.8 284.2 C280.3 281.6 280.3 279.0 279.8 276.4 C279.3 273.8 278.0 271.0 277.0 268.6 C276.0 266.2 275.0 263.9 273.7 261.9 C272.4 259.9 271.1 257.7 269.2 256.4 C267.3 255.1 264.9 253.7 262.5 254.1 C260.1 254.5 256.9 256.9 254.7 258.6 C252.5 260.3 250.0 262.6 249.1 264.2 C248.2 265.8 251.2 266.6 249.4 268.0Z" fill="#c82a26"/>
<path d="M315.9 198.6 C314.9 205.0 312.2 201.6 310.3 203.6 C308.4 205.6 306.6 207.9 304.7 210.3 C302.8 212.7 300.8 215.5 299.1 218.1 C297.4 220.7 296.0 223.1 294.7 225.9 C293.4 228.7 291.2 232.5 291.5 234.8 C291.8 237.1 294.0 238.3 296.5 239.8 C299.0 241.3 303.0 243.0 306.6 244.0 C310.2 245.0 314.1 245.4 318.3 245.7 C322.5 246.0 327.2 246.0 331.6 246.0 C336.1 246.0 340.2 245.8 345.0 245.5 C349.8 245.2 355.9 244.9 360.3 244.1 C364.7 243.3 367.7 241.9 371.4 240.8 C375.1 239.7 379.2 238.6 382.6 237.5 C386.0 236.4 388.6 235.2 391.5 234.1 C394.4 233.0 397.0 232.2 399.7 231.0 C402.4 229.8 405.1 228.1 407.5 227.0 C409.9 225.9 411.8 224.9 414.2 224.4 C416.6 223.9 419.9 224.0 422.0 224.2 C424.1 224.3 424.0 224.7 427.0 225.3 C430.0 225.9 434.5 229.7 440.0 228.0 C445.5 226.3 456.7 225.5 460.0 215.0 C463.3 204.5 484.0 173.3 460.0 165.0 C436.0 156.7 340.0 159.4 316.0 165.0 C292.0 170.6 316.8 192.2 315.9 198.6Z" fill="#c82a26"/>
<path d="M324.8 210.3 C324.1 212.0 324.4 214.8 324.8 217.0 C325.2 219.2 325.7 221.8 327.0 223.7 C328.3 225.5 330.4 226.9 332.6 228.1 C334.8 229.3 337.4 230.2 340.4 230.9 C343.4 231.6 347.1 231.9 350.4 232.0 C353.7 232.1 357.1 231.8 360.4 231.5 C363.7 231.2 366.9 231.0 370.4 230.4 C373.9 229.8 378.4 229.0 381.4 228.1 C384.3 227.2 385.9 226.0 388.1 224.8 C390.3 223.6 392.6 222.1 394.8 220.9 C397.0 219.7 399.3 218.6 401.5 217.5 C403.7 216.4 406.0 215.2 408.2 214.2 C410.4 213.2 412.6 212.2 414.8 211.4 C417.0 210.7 419.3 210.1 421.5 209.7 C423.7 209.3 425.6 209.5 428.2 209.2 C430.8 208.9 432.5 208.6 437.1 208.1 C441.7 207.6 452.2 213.2 456.0 206.0 C459.8 198.8 469.3 167.7 460.0 165.0 C450.7 162.3 412.8 184.2 400.0 190.0 C387.2 195.8 386.6 197.7 383.0 200.0 C379.4 202.3 380.8 203.4 378.4 203.9 C376.0 204.4 371.4 202.9 368.4 203.0 C365.4 203.1 362.7 204.2 360.4 204.2 C358.1 204.2 357.2 203.3 354.8 203.1 C352.4 202.9 348.9 202.8 345.9 203.1 C342.9 203.4 339.8 204.0 337.0 204.7 C334.2 205.3 331.2 206.1 329.2 207.0 C327.2 207.9 325.5 208.6 324.8 210.3Z" fill="#d22c48"/>
<rect x="422" y="160" width="40" height="24" fill="#c82a26"/>
</g>
<clipPath id="akclip"><path d="M188.9 62.0 L186.1 58.1 L181.6 51.0 L179.4 47.4 L176.0 41.8 L172.7 37.3 L166.0 32.9 L157.1 31.2 L150.4 29.5 L145.9 27.3 L143.7 28.4 L140.4 35.1 L137.0 38.4 L132.6 34.0 L125.9 30.7 L121.4 35.1 L121.4 40.7 L124.8 45.1 L128.2 44.7 L123.7 45.8 L119.2 44.7 L112.6 43.0 L103.7 41.4 L95.9 42.5 L89.2 43.6 L88.1 46.9 L92.5 51.4 L97.0 53.6 L94.7 54.7 L90.3 58.1 L89.2 61.4 L92.5 64.8 L96.0 70.3 L90.4 71.4 L84.8 70.3 L82.0 72.0 L84.8 75.8 L96.0 78.1 L91.5 83.7 L102.7 84.8 L112.7 82.6 L125.0 82.6 L129.4 85.9 L134.8 91.4 L141.5 98.1 L146.0 99.2 L144.5 104.0 L146.0 112.0 L146.0 123.0 L144.8 128.0 L142.0 138.0 L140.3 142.0 L140.8 148.0 L142.5 151.4 L144.0 147.0 L146.0 141.0 L150.0 140.0 L158.0 141.0 L161.5 136.0 L160.5 123.0 L159.4 112.0 L153.0 104.0 L148.5 100.5 L168.3 79.5Z"/></clipPath>
<g clip-path="url(#akclip)">
<path d="M188.9 62.0 L186.1 58.1 L181.6 51.0 L179.4 47.4 L176.0 41.8 L172.7 37.3 L166.0 32.9 L157.1 31.2 L150.4 29.5 L145.9 27.3 L143.7 28.4 L140.4 35.1 L137.0 38.4 L132.6 34.0 L125.9 30.7 L121.4 35.1 L121.4 40.7 L124.8 45.1 L128.2 44.7 L123.7 45.8 L119.2 44.7 L112.6 43.0 L103.7 41.4 L95.9 42.5 L89.2 43.6 L88.1 46.9 L92.5 51.4 L97.0 53.6 L94.7 54.7 L90.3 58.1 L89.2 61.4 L92.5 64.8 L96.0 70.3 L90.4 71.4 L84.8 70.3 L82.0 72.0 L84.8 75.8 L96.0 78.1 L91.5 83.7 L102.7 84.8 L112.7 82.6 L125.0 82.6 L129.4 85.9 L134.8 91.4 L141.5 98.1 L146.0 99.2 L144.5 104.0 L146.0 112.0 L146.0 123.0 L144.8 128.0 L142.0 138.0 L140.3 142.0 L140.8 148.0 L142.5 151.4 L144.0 147.0 L146.0 141.0 L150.0 140.0 L158.0 141.0 L161.5 136.0 L160.5 123.0 L159.4 112.0 L153.0 104.0 L148.5 100.5 L168.3 79.5Z" fill="#b2b2b2"/>
<path d="M70.0 76.0 C70.7 71.5 80.7 71.3 84.0 68.0 C87.3 64.7 86.8 58.9 89.7 55.9 C92.6 52.9 97.6 51.8 101.4 50.3 C105.2 48.8 108.9 47.6 112.6 46.9 C116.3 46.1 120.0 45.6 123.7 45.8 C127.4 46.0 131.1 47.2 134.8 48.1 C138.5 49.0 142.3 50.1 146.0 51.4 C149.7 52.7 153.4 54.2 157.1 55.9 C160.8 57.6 164.4 59.1 168.3 61.4 C172.2 63.7 176.1 67.5 180.5 69.8 C184.9 72.1 196.8 60.0 195.0 75.0 C193.2 90.0 182.5 145.8 170.0 160.0 C157.5 174.2 135.0 170.8 120.0 160.0 C105.0 149.2 88.3 109.0 80.0 95.0 C71.7 81.0 69.3 80.5 70.0 76.0Z" fill="#a0c3e3"/>
<path d="M93.6 60.3 C95.1 56.1 101.1 56.1 104.8 54.7 C108.5 53.3 112.2 52.5 115.9 52.0 C119.6 51.5 123.1 51.4 127.0 52.0 C130.9 52.6 135.4 54.3 139.3 55.9 C143.2 57.5 147.1 59.4 150.4 61.4 C153.8 63.4 156.8 65.7 159.4 68.1 C162.0 70.5 164.4 73.8 166.0 75.9 C167.6 78.0 166.5 78.6 168.8 80.9 C171.1 83.2 179.8 76.8 180.0 90.0 C180.2 103.2 180.0 148.3 170.0 160.0 C160.0 171.7 132.3 173.3 120.0 160.0 C107.7 146.7 100.4 96.6 96.0 80.0 C91.6 63.4 92.1 64.5 93.6 60.3Z" fill="#76b5e2"/>
<path d="M107.0 69.2 C108.1 67.3 110.2 65.9 112.6 64.8 C115.0 63.7 118.5 62.7 121.5 62.5 C124.5 62.3 127.4 62.7 130.4 63.6 C133.4 64.5 136.7 66.2 139.3 68.1 C141.9 70.0 144.3 72.8 146.0 74.8 C147.7 76.8 148.2 78.8 149.3 80.4 C150.4 82.1 151.9 83.1 152.7 84.7 C153.4 86.3 151.6 87.8 153.8 90.3 C156.0 92.8 163.3 88.4 166.0 100.0 C168.7 111.6 176.0 150.0 170.0 160.0 C164.0 170.0 138.3 170.8 130.0 160.0 C121.7 149.2 124.0 109.0 120.0 95.0 C116.0 81.0 108.2 80.3 106.0 76.0 C103.8 71.7 105.9 71.1 107.0 69.2Z" fill="#309bd9"/>
</g>
<path d="M28.0 38.5 C29.9 38.8 36.4 44.1 40.3 46.8 C44.2 49.5 47.7 52.2 51.4 54.6 C55.1 57.0 58.9 59.0 62.6 61.0 C66.3 63.0 69.8 65.1 73.7 66.5 C77.6 67.9 83.3 67.8 86.0 69.5 C88.7 71.2 90.2 75.7 90.0 77.0 C89.8 78.3 87.5 78.0 84.8 77.5 C82.1 77.0 77.4 75.7 73.7 74.3 C70.0 72.9 66.3 71.0 62.6 68.9 C58.9 66.8 55.1 64.3 51.4 61.8 C47.7 59.3 44.0 56.6 40.3 53.8 C36.6 51.0 31.1 47.5 29.0 45.0 C26.9 42.5 26.1 38.2 28.0 38.5Z" fill="#b2b2b2"/>
<use href="#geo"/>
<text x="201" y="208.5" font-size="14" text-anchor="middle" fill="#111">B</text>
<text x="205.5" y="215.2" font-size="7.5" text-anchor="middle" fill="#111">50</text>
<text x="146.4" y="230.8" font-size="14" text-anchor="middle" fill="#111">A</text>
<text x="156" y="229.7" font-size="7.5" text-anchor="start" fill="#111">4033 33</text>
<text x="242.7" y="223" font-size="8" text-anchor="middle" fill="#111">33</text>
<text x="245" y="232" font-size="8" text-anchor="middle" fill="#111">40</text>
<text x="158.7" y="275.4" font-size="14" text-anchor="middle" fill="#111">B</text>
<text x="152" y="263" font-size="6" text-anchor="middle" fill="#111">40</text>
<text x="168" y="272" font-size="6" text-anchor="middle" fill="#111">10</text>
<text x="168" y="278" font-size="5" text-anchor="middle" fill="#111">80</text>
<text x="189" y="285.5" font-size="5.5" text-anchor="middle" fill="#111">25</text>
<text x="249.2" y="292" font-size="14" text-anchor="middle" fill="#111">A</text>
<text x="194" y="294.2" font-size="8" text-anchor="middle" fill="#111">50</text>
<text x="206" y="288" font-size="5" text-anchor="middle" fill="#111">25</text>
<text x="362.1" y="222.6" font-size="14" text-anchor="middle" fill="#111">A</text>
<text x="371.3" y="234.7" font-size="7.5" text-anchor="middle" fill="#111">70</text>
<text x="432.7" y="201.4" font-size="14" text-anchor="middle" fill="#111">A</text>
<text x="325.5" y="250.7" font-size="7.5" text-anchor="middle" fill="#111">60</text>
<text x="302" y="268" font-size="5.5" text-anchor="middle" fill="#111">80</text>
<text x="415.5" y="238.7" font-size="7.5" text-anchor="middle" fill="#111">50</text>
<text x="419.7" y="256.3" font-size="8" text-anchor="middle" fill="#111">40</text>
<text x="404.7" y="266.3" font-size="8" text-anchor="middle" fill="#111">40</text>
<text x="354.7" y="278.7" font-size="8" text-anchor="middle" fill="#111">50</text>
<text x="371.3" y="295.3" font-size="14" text-anchor="middle" fill="#111">A</text>
<text x="157.1" y="49.2" font-size="14" text-anchor="middle" fill="#111">N</text>
<text x="128.5" y="76.5" font-size="14" text-anchor="middle" fill="#111">B</text>
<text x="105.8" y="50.8" font-size="8" text-anchor="middle" fill="#111">33</text>
<text x="132.6" y="57" font-size="7.5" text-anchor="middle" fill="#111">40</text>
<text x="163" y="59.8" font-size="8" text-anchor="middle" fill="#111">33</text>
<text x="121.5" y="65.3" font-size="8" text-anchor="middle" fill="#111">50</text>
<text x="142" y="90.3" font-size="8" text-anchor="middle" fill="#111">50</text>
<text x="228" y="263" font-size="5" text-anchor="middle" fill="#111">70</text>
<text x="154" y="200" font-size="5" text-anchor="middle" fill="#111">25</text>
<text x="147" y="243" font-size="5" text-anchor="middle" fill="#111">50</text>
<text x="205.5" y="229" font-size="6" text-anchor="middle" fill="#111">25</text>
<text class="mono" x="8.4" y="348.7" font-size="9.4" stroke="#000" stroke-width="0.3" fill="#000" textLength="126.7" lengthAdjust="spacingAndGlyphs" xml:space="preserve">6-10 DAY OUTLOOK</text>
<text class="mono" x="8.4" y="356.6" font-size="9.4" stroke="#000" stroke-width="0.3" fill="#000" textLength="182.2" lengthAdjust="spacingAndGlyphs" xml:space="preserve">TEMPERATURE PROBABILITY</text>
<text class="mono" x="8.4" y="364.6" font-size="9.4" stroke="#000" stroke-width="0.3" fill="#000" textLength="126.7" lengthAdjust="spacingAndGlyphs" xml:space="preserve">MADE  2 AUG 2020</text>
<text class="mono" x="8.4" y="372.1" font-size="9.4" stroke="#000" stroke-width="0.3" fill="#000" textLength="190.1" lengthAdjust="spacingAndGlyphs" xml:space="preserve">VALID  AUG 08 - 12, 2020</text>
<use href="#legend"/>
</g>
<g transform="translate(559,67)" clip-path="url(#cp)">
<rect width="548" height="433" fill="#fff"/>
<g clip-path="url(#usclip)">
<path d="M155.9 177.4 L160.0 174.0 L167.0 176.2 L173.7 182.4 L184.8 185.7 L196.0 189.1 L207.1 190.7 L218.3 192.6 L229.4 194.4 L242.0 195.7 L258.4 197.3 L271.8 197.8 L288.0 196.4 L300.3 196.4 L301.9 194.2 L303.6 197.5 L310.3 198.6 L317.0 199.2 L324.8 198.6 L330.3 198.1 L334.8 193.6 L340.4 192.5 L345.9 193.0 L349.3 196.4 L354.8 196.4 L358.2 200.3 L360.4 203.1 L366.0 204.2 L372.7 204.2 L377.1 203.1 L381.6 203.6 L386.0 205.9 L387.2 208.1 L382.7 208.1 L381.0 211.4 L381.0 217.0 L379.4 221.4 L381.6 223.7 L386.0 221.4 L391.6 215.9 L395.0 212.5 L399.4 209.2 L405.0 204.7 L412.0 199.2 L415.0 198.1 L421.7 193.9 L428.3 191.4 L430.0 183.1 L430.0 175.5 L435.0 173.4 L440.0 175.5 L445.1 179.7 L450.9 183.1 L448.4 188.1 L443.4 191.4 L441.7 197.3 L443.4 203.1 L449.2 203.9 L448.4 208.1 L441.7 209.0 L436.7 211.5 L433.4 218.1 L431.7 223.2 L434.2 227.3 L431.7 233.2 L433.8 241.9 L437.2 247.5 L440.5 251.4 L437.2 256.4 L432.7 260.9 L428.2 266.4 L424.9 272.0 L420.4 278.7 L417.1 284.2 L416.0 289.0 L418.2 293.0 L422.7 298.6 L428.2 304.2 L433.8 309.7 L438.3 315.3 L440.5 320.9 L439.4 325.3 L436.0 328.7 L432.7 327.0 L429.4 324.2 L424.9 320.9 L420.4 317.5 L416.0 314.2 L412.6 310.9 L409.3 306.4 L404.8 303.6 L400.4 301.4 L395.9 301.9 L391.5 304.2 L387.0 303.1 L382.6 301.9 L377.0 301.9 L370.3 304.2 L364.7 306.4 L362.5 312.0 L356.9 313.1 L349.1 315.3 L344.7 313.6 L338.0 312.0 L332.7 311.9 L326.0 313.1 L318.2 314.2 L313.8 317.5 L307.1 320.9 L301.5 325.3 L299.3 328.7 L300.4 333.1 L301.5 337.6 L300.4 340.3 L292.6 339.2 L285.9 337.6 L282.6 334.2 L280.3 329.8 L275.9 325.3 L271.4 319.7 L268.1 315.3 L261.4 314.7 L256.9 316.4 L252.5 319.2 L248.0 317.5 L243.6 314.2 L241.3 309.7 L238.0 306.4 L232.7 302.5 L230.5 299.2 L218.2 298.6 L216.0 300.3 L211.5 300.9 L204.8 300.5 L195.9 298.6 L187.0 295.3 L180.3 292.0 L174.8 289.2 L171.4 286.4 L162.5 284.7 L154.7 283.0 L152.5 281.4 L146.9 275.8 L141.3 270.2 L138.1 264.2 L136.4 256.4 L135.3 249.7 L133.6 241.9 L131.4 234.1 L130.3 226.3 L132.5 223.6 L136.9 216.9 L142.0 210.2 L147.0 202.4 L151.4 195.7 L155.9 190.2 L155.3 183.5Z" fill="#b2b2b2"/>
<path d="M148.1 202.4 C150.1 208.7 152.4 204.7 154.8 205.8 C157.2 206.9 160.0 208.0 162.6 209.1 C165.2 210.2 167.8 211.3 170.4 212.4 C173.0 213.5 176.2 214.7 178.2 215.8 C180.2 216.9 181.1 218.0 182.6 219.1 C184.1 220.2 185.2 221.3 187.1 222.5 C189.0 223.7 191.8 225.2 193.8 226.0 C195.8 226.8 197.3 227.1 199.0 227.0 C200.7 226.9 202.7 226.4 204.0 225.5 C205.3 224.6 205.7 223.0 207.1 221.4 C208.5 219.8 211.2 217.9 212.7 215.8 C214.2 213.8 214.9 211.7 216.0 209.1 C217.1 206.5 218.7 202.9 219.4 200.2 C220.2 197.5 220.2 198.4 220.5 193.0 C220.8 187.6 233.9 172.2 221.0 168.0 C208.1 163.8 155.2 162.3 143.0 168.0 C130.8 173.7 146.1 196.1 148.1 202.4Z" fill="#a0c3e3"/>
<path d="M151.4 196.3 C153.9 196.5 155.5 196.9 158.1 197.4 C160.7 197.9 164.0 198.8 167.0 199.6 C170.0 200.3 172.9 201.2 175.9 201.9 C178.9 202.6 182.6 203.0 184.8 203.5 C187.0 204.0 187.8 204.0 189.3 204.7 C190.8 205.3 192.1 207.0 193.8 207.4 C195.5 207.8 197.6 207.6 199.3 206.9 C201.0 206.2 202.7 205.0 203.8 203.5 C204.9 202.0 205.6 200.1 206.0 198.0 C206.4 195.9 206.0 195.7 206.0 190.7 C206.0 185.7 216.5 171.8 206.0 168.0 C195.5 164.2 153.5 163.3 143.0 168.0 C132.5 172.7 141.6 191.3 143.0 196.0 C144.4 200.7 148.9 196.1 151.4 196.3Z" fill="#76b5e2"/>
<path d="M134.7 245.8 C138.5 245.7 142.2 245.3 145.9 245.3 C149.6 245.3 153.3 245.5 157.0 245.8 C160.7 246.1 164.6 246.4 168.1 247.0 C171.6 247.6 175.6 248.3 178.2 249.2 C180.8 250.1 182.4 251.3 183.7 252.5 C185.0 253.7 185.8 255.0 186.0 256.4 C186.2 257.8 185.2 259.4 184.8 260.9 C184.4 262.4 184.1 263.8 183.7 265.3 C183.3 266.8 183.1 268.1 182.6 269.8 C182.1 271.5 181.1 273.9 180.4 275.4 C179.7 276.9 179.6 277.2 178.2 279.0 C176.8 280.8 175.0 283.7 172.0 286.0 C169.0 288.3 168.2 291.8 160.0 293.0 C151.8 294.2 129.2 300.8 123.0 293.0 C116.8 285.2 121.0 253.9 123.0 246.0 C125.0 238.1 130.9 245.9 134.7 245.8Z" fill="#a0c3e3"/>
<path d="M136.9 260.9 C139.8 260.3 141.2 259.2 143.6 258.7 C146.0 258.2 148.8 257.9 151.4 258.1 C154.0 258.3 157.0 259.0 159.2 259.8 C161.4 260.6 163.3 261.8 164.8 263.1 C166.3 264.4 167.2 265.9 168.1 267.6 C169.0 269.3 170.0 271.2 170.4 273.1 C170.8 275.0 170.8 277.0 170.4 279.0 C170.0 281.0 169.7 282.7 168.0 285.0 C166.3 287.3 167.5 291.7 160.0 293.0 C152.5 294.3 128.7 298.2 123.0 293.0 C117.3 287.8 123.7 267.4 126.0 262.0 C128.3 256.6 134.0 261.4 136.9 260.9Z" fill="#76b5e2"/>
<path d="M236.1 195.7 C234.8 203.3 231.4 202.8 229.4 205.8 C227.4 208.8 225.7 211.0 223.8 213.6 C222.0 216.2 219.8 219.1 218.3 221.4 C216.8 223.7 216.4 225.4 214.9 227.5 C213.4 229.6 211.4 231.7 209.4 234.1 C207.4 236.5 204.9 239.1 202.7 241.9 C200.5 244.7 198.1 248.1 196.0 250.9 C193.9 253.7 191.9 256.3 190.4 258.7 C188.9 261.1 188.2 263.1 187.1 265.3 C186.0 267.5 184.8 269.7 183.7 272.0 C182.6 274.3 182.0 276.5 180.4 279.0 C178.8 281.5 175.4 283.5 174.0 287.0 C172.6 290.5 151.0 289.5 172.0 300.0 C193.0 310.5 250.3 343.3 300.0 350.0 C349.7 356.7 441.7 371.7 470.0 340.0 C498.3 308.3 508.8 190.0 470.0 160.0 C431.2 130.0 276.0 154.1 237.0 160.0 C198.0 165.9 237.4 188.1 236.1 195.7Z" fill="#e9b262"/>
<path d="M241.4 194.7 C240.2 202.7 236.6 203.9 234.7 208.1 C232.8 212.3 231.6 216.0 230.0 220.0 C228.4 224.0 226.9 228.4 225.0 231.9 C223.1 235.4 220.4 238.0 218.3 240.8 C216.2 243.6 214.8 246.0 212.7 248.6 C210.6 251.2 208.2 253.8 206.0 256.4 C203.8 259.0 201.5 261.8 199.3 264.2 C197.1 266.6 194.9 268.8 193.0 271.0 C191.1 273.2 189.5 275.2 188.0 277.5 C186.5 279.8 184.8 282.6 184.0 285.0 C183.2 287.4 183.2 288.7 183.0 292.0 C182.8 295.3 163.5 295.3 183.0 305.0 C202.5 314.7 252.2 344.2 300.0 350.0 C347.8 355.8 441.7 371.7 470.0 340.0 C498.3 308.3 508.0 190.0 470.0 160.0 C432.0 130.0 280.1 154.2 242.0 160.0 C203.9 165.8 242.6 186.7 241.4 194.7Z" fill="#e68b47"/>
<path d="M293.2 197.2 C291.1 204.4 285.7 200.9 281.5 203.0 C277.3 205.1 272.3 207.5 268.1 209.7 C263.9 211.9 260.0 213.9 256.4 216.4 C252.8 218.9 248.8 222.6 246.4 224.8 C244.0 227.0 243.9 227.6 242.0 229.7 C240.1 231.8 237.3 234.9 235.0 237.5 C232.7 240.1 230.5 242.7 228.3 245.3 C226.1 247.9 223.8 250.5 221.6 253.1 C219.4 255.7 217.3 258.5 214.9 260.9 C212.5 263.3 209.5 265.4 207.1 267.6 C204.7 269.8 202.2 272.1 200.4 274.2 C198.6 276.3 197.1 278.0 196.0 280.0 C194.9 282.0 194.3 284.0 193.7 286.0 C193.1 288.0 192.5 288.8 192.6 292.0 C192.7 295.2 176.1 295.3 194.0 305.0 C211.9 314.7 254.0 344.2 300.0 350.0 C346.0 355.8 441.7 371.7 470.0 340.0 C498.3 308.3 499.3 190.0 470.0 160.0 C440.7 130.0 323.5 153.8 294.0 160.0 C264.5 166.2 295.3 190.0 293.2 197.2Z" fill="#dc5a2e"/>
<path d="M268.0 318.0 C269.6 317.1 269.9 316.9 271.4 316.4 C272.9 315.8 274.8 315.6 277.0 314.7 C279.2 313.8 282.4 312.4 284.8 310.8 C287.2 309.2 289.6 307.3 291.5 305.3 C293.4 303.3 294.9 301.6 295.9 298.6 C296.9 295.7 297.3 290.7 297.6 287.6 C297.9 284.5 297.1 282.2 297.6 279.8 C298.1 277.4 298.8 274.9 300.4 273.1 C302.0 271.3 304.5 270.1 307.1 269.2 C309.7 268.3 312.7 267.9 316.0 267.5 C319.3 267.1 323.4 267.3 327.1 267.0 C330.8 266.7 334.6 266.4 338.3 265.8 C342.0 265.2 345.7 264.6 349.4 263.1 C353.1 261.6 356.6 258.8 360.3 257.0 C364.0 255.2 367.7 254.1 371.4 252.5 C375.1 250.9 379.0 249.4 382.6 247.5 C386.2 245.6 389.8 242.7 393.0 241.0 C396.2 239.3 399.0 238.7 402.0 237.5 C405.0 236.3 408.3 235.0 411.0 234.0 C413.7 233.0 415.5 232.2 418.0 231.5 C420.5 230.8 422.3 229.9 426.0 229.5 C429.7 229.1 435.2 224.8 440.0 229.0 C444.8 233.2 453.8 237.3 455.0 255.0 C456.2 272.7 472.8 319.2 447.0 335.0 C421.2 350.8 330.8 352.2 300.0 350.0 C269.2 347.8 267.3 327.3 262.0 322.0 C256.7 316.7 266.4 318.9 268.0 318.0Z" fill="#e68b47"/>
<path d="M398.2 259.7 C399.1 258.0 402.2 256.5 404.8 255.3 C407.4 254.1 410.8 253.0 413.8 252.5 C416.8 252.0 420.1 252.0 422.7 252.5 C425.3 253.0 426.8 254.7 429.4 255.3 C431.9 255.9 437.2 253.9 438.0 256.0 C438.8 258.1 436.7 263.7 434.0 268.0 C431.3 272.3 425.0 279.8 422.0 282.0 C419.0 284.2 418.1 281.7 416.0 281.0 C413.9 280.3 411.4 279.3 409.3 277.6 C407.2 275.9 405.4 272.9 403.7 270.9 C402.0 268.8 400.2 267.2 399.3 265.3 C398.4 263.4 397.3 261.4 398.2 259.7Z" fill="#e9b262"/>
<path d="M282.6 330.3 C284.8 329.0 286.2 330.5 288.1 330.3 C290.0 330.1 291.8 329.7 293.7 329.2 C295.6 328.7 297.7 328.4 299.3 327.5 C300.9 326.6 301.7 323.6 303.5 324.0 C305.3 324.4 310.6 326.0 310.0 330.0 C309.4 334.0 305.8 346.7 300.0 348.0 C294.2 349.3 277.9 340.9 275.0 338.0 C272.1 335.1 280.4 331.6 282.6 330.3Z" fill="#e9b262"/>
<path d="M318.2 314.2 C317.0 312.8 320.8 310.8 322.7 309.7 C324.6 308.6 327.2 307.5 329.4 307.5 C331.6 307.5 334.0 308.8 336.0 309.7 C338.0 310.6 342.6 311.7 341.6 313.1 C340.6 314.5 333.9 317.8 330.0 318.0 C326.1 318.2 319.4 315.6 318.2 314.2Z" fill="#e9b262"/>
<path d="M426.0 300.0 C423.8 301.5 426.6 308.3 427.0 312.0 C427.4 315.7 427.0 318.3 428.5 322.0 C430.0 325.7 433.1 333.5 436.0 334.0 C438.9 334.5 445.3 330.2 446.0 325.0 C446.7 319.8 443.3 307.2 440.0 303.0 C436.7 298.8 428.2 298.5 426.0 300.0Z" fill="#e9b262"/>
<path d="M370.3 294.1 C371.3 292.3 373.5 290.1 375.9 289.1 C378.3 288.1 381.8 287.7 384.8 288.0 C387.8 288.3 391.3 289.6 393.7 290.8 C396.1 292.0 397.8 293.8 399.3 295.3 C400.8 296.8 402.2 297.6 402.6 299.7 C403.1 301.8 407.1 306.3 402.0 308.0 C396.9 309.7 377.4 311.4 372.0 310.0 C366.6 308.6 370.1 302.3 369.8 299.7 C369.5 297.1 369.3 295.9 370.3 294.1Z" fill="#dc5a2e"/>
<path d="M316.6 198.0 C314.6 204.6 309.1 202.2 304.9 204.7 C300.7 207.2 295.9 210.3 291.5 213.1 C287.1 215.9 282.6 218.6 278.2 221.4 C273.8 224.2 268.7 227.0 264.8 229.8 C260.9 232.6 257.8 235.2 254.8 238.1 C251.8 241.0 249.7 244.2 246.9 247.0 C244.1 249.8 240.8 252.8 238.0 255.0 C235.2 257.2 232.2 259.1 230.0 260.5 C227.8 261.9 226.9 261.6 225.0 263.1 C223.1 264.7 220.2 268.1 218.3 269.8 C216.4 271.6 215.5 271.9 213.8 273.6 C212.1 275.4 209.7 277.9 208.2 280.3 C206.7 282.7 205.4 285.7 204.8 288.1 C204.2 290.5 204.4 292.9 204.8 294.7 C205.2 296.5 205.9 296.6 207.1 299.2 C208.3 301.8 207.2 307.2 212.0 310.0 C216.8 312.8 231.1 315.4 236.0 316.0 C240.9 316.6 239.5 314.2 241.3 313.6 C243.1 313.0 244.5 313.1 246.9 312.5 C249.3 311.9 252.8 310.9 255.8 309.7 C258.8 308.5 262.1 307.0 264.7 305.3 C267.3 303.6 269.6 301.8 271.4 299.7 C273.2 297.6 274.2 295.0 275.3 293.0 C276.4 291.0 277.6 289.8 278.1 287.6 C278.6 285.4 278.4 282.4 278.1 279.8 C277.8 277.2 276.8 274.4 276.4 272.0 C276.0 269.6 275.6 267.7 275.9 265.3 C276.2 262.9 276.6 259.9 278.1 257.5 C279.6 255.1 282.2 252.5 284.8 250.8 C287.4 249.1 290.4 248.3 293.7 247.5 C297.0 246.7 300.7 246.1 304.8 245.8 C308.9 245.5 313.3 245.4 318.3 245.5 C323.3 245.6 329.4 246.6 335.0 246.5 C340.6 246.4 346.1 245.8 351.7 245.0 C357.3 244.2 362.9 243.1 368.4 241.5 C373.9 239.9 380.4 237.0 384.8 235.4 C389.2 233.8 391.7 233.1 394.8 232.0 C397.9 230.9 400.7 229.7 403.7 228.7 C406.7 227.7 409.6 226.7 412.6 225.9 C415.6 225.2 418.9 224.6 421.5 224.2 C424.1 223.8 426.1 223.6 428.2 223.7 C430.2 223.8 431.0 224.4 433.8 224.8 C436.6 225.2 440.6 227.6 445.0 226.0 C449.4 224.4 457.5 225.2 460.0 215.0 C462.5 204.8 483.8 173.3 460.0 165.0 C436.2 156.7 340.9 159.5 317.0 165.0 C293.1 170.5 318.6 191.4 316.6 198.0Z" fill="#c82a26"/>
<path d="M326.6 216.4 C326.9 214.5 328.1 212.8 330.0 211.4 C331.9 210.0 334.7 208.8 338.3 208.1 C341.9 207.4 347.2 207.5 351.7 207.2 C356.2 206.9 360.9 206.7 365.1 206.4 C369.3 206.1 373.8 205.4 376.8 205.5 C379.9 205.6 382.4 208.1 383.4 207.2 C384.4 206.3 380.2 202.9 383.0 200.0 C385.8 197.1 387.2 195.8 400.0 190.0 C412.8 184.2 450.7 162.3 460.0 165.0 C469.3 167.7 458.7 199.0 456.0 206.0 C453.3 213.0 446.9 206.7 443.8 207.0 C440.7 207.3 439.7 207.7 437.1 208.1 C434.5 208.5 431.2 208.7 428.2 209.2 C425.2 209.7 422.3 210.2 419.3 210.9 C416.3 211.6 413.4 212.2 410.4 213.1 C407.4 214.0 404.5 215.3 401.5 216.4 C398.5 217.5 395.6 218.7 392.6 219.8 C389.6 220.9 386.5 222.2 383.7 223.1 C380.9 224.0 378.9 224.6 375.9 225.3 C372.9 226.1 369.0 226.7 365.8 227.6 C362.6 228.5 360.2 230.0 356.7 230.6 C353.2 231.2 348.6 231.7 345.0 231.4 C341.4 231.1 337.8 230.3 335.0 228.9 C332.2 227.5 329.7 225.2 328.3 223.1 C326.9 221.0 326.3 218.3 326.6 216.4Z" fill="#d22c48"/>
<rect x="422" y="160" width="40" height="24" fill="#c82a26"/>
<ellipse cx="239.4" cy="289.2" rx="16.2" ry="11.1" fill="#d22c48"/>
</g>
<g clip-path="url(#akclip)">
<path d="M188.9 62.0 L186.1 58.1 L181.6 51.0 L179.4 47.4 L176.0 41.8 L172.7 37.3 L166.0 32.9 L157.1 31.2 L150.4 29.5 L145.9 27.3 L143.7 28.4 L140.4 35.1 L137.0 38.4 L132.6 34.0 L125.9 30.7 L121.4 35.1 L121.4 40.7 L124.8 45.1 L128.2 44.7 L123.7 45.8 L119.2 44.7 L112.6 43.0 L103.7 41.4 L95.9 42.5 L89.2 43.6 L88.1 46.9 L92.5 51.4 L97.0 53.6 L94.7 54.7 L90.3 58.1 L89.2 61.4 L92.5 64.8 L96.0 70.3 L90.4 71.4 L84.8 70.3 L82.0 72.0 L84.8 75.8 L96.0 78.1 L91.5 83.7 L102.7 84.8 L112.7 82.6 L125.0 82.6 L129.4 85.9 L134.8 91.4 L141.5 98.1 L146.0 99.2 L144.5 104.0 L146.0 112.0 L146.0 123.0 L144.8 128.0 L142.0 138.0 L140.3 142.0 L140.8 148.0 L142.5 151.4 L144.0 147.0 L146.0 141.0 L150.0 140.0 L158.0 141.0 L161.5 136.0 L160.5 123.0 L159.4 112.0 L153.0 104.0 L148.5 100.5 L168.3 79.5Z" fill="#b2b2b2"/>
<path d="M101.4 65.9 C101.8 63.7 102.9 61.2 104.8 59.2 C106.7 57.2 109.4 55.1 112.6 53.6 C115.8 52.1 119.6 50.9 123.7 50.3 C127.8 49.6 132.7 49.6 137.1 49.7 C141.5 49.8 146.3 50.2 150.4 50.8 C154.5 51.4 158.2 51.9 161.6 53.1 C164.9 54.3 167.9 56.4 170.5 58.1 C173.1 59.9 175.5 61.8 177.2 63.6 C178.9 65.4 177.5 66.8 180.5 68.7 C183.5 70.6 196.8 59.8 195.0 75.0 C193.2 90.2 182.5 145.8 170.0 160.0 C157.5 174.2 130.5 173.8 120.0 160.0 C109.5 146.2 109.9 91.6 107.0 77.0 C104.1 62.4 103.4 74.4 102.5 72.6 C101.6 70.8 101.0 68.1 101.4 65.9Z" fill="#a0c3e3"/>
<path d="M112.6 69.2 C112.8 67.5 114.1 65.3 115.9 63.7 C117.8 62.1 120.5 60.6 123.7 59.8 C126.9 58.9 131.1 58.8 134.8 58.6 C138.5 58.4 142.7 58.3 146.0 58.6 C149.3 58.9 152.7 59.1 154.9 60.3 C157.1 61.5 158.1 63.9 159.4 65.9 C160.7 68.0 161.6 70.8 162.7 72.6 C163.8 74.4 165.1 75.7 166.0 77.0 C166.9 78.3 165.1 78.6 168.3 80.4 C171.5 82.2 188.1 84.4 185.0 88.0 C181.9 91.6 158.3 100.0 150.0 102.0 C141.7 104.0 139.9 104.2 135.0 100.0 C130.1 95.8 123.8 81.4 120.4 77.0 C117.0 72.6 116.1 75.0 114.8 73.7 C113.5 72.4 112.4 70.9 112.6 69.2Z" fill="#76b5e2"/>
<path d="M140 99 L165 99 L170 160 L130 160Z" fill="#309bd9"/>
</g>
<path d="M28.0 38.5 C29.9 38.8 36.4 44.1 40.3 46.8 C44.2 49.5 47.7 52.2 51.4 54.6 C55.1 57.0 58.9 59.0 62.6 61.0 C66.3 63.0 69.8 65.1 73.7 66.5 C77.6 67.9 83.3 67.8 86.0 69.5 C88.7 71.2 90.2 75.7 90.0 77.0 C89.8 78.3 87.5 78.0 84.8 77.5 C82.1 77.0 77.4 75.7 73.7 74.3 C70.0 72.9 66.3 71.0 62.6 68.9 C58.9 66.8 55.1 64.3 51.4 61.8 C47.7 59.3 44.0 56.6 40.3 53.8 C36.6 51.0 31.1 47.5 29.0 45.0 C26.9 42.5 26.1 38.2 28.0 38.5Z" fill="#e9b262"/><path d="M84 49 L89 58 L92 68 L88 66 L85.5 58Z" fill="#e9b262"/><path d="M86 80 L100 82 L108 85 L100 87 L90 84Z" fill="#e9b262"/>
<use href="#geo"/>
<text x="183.5" y="201.9" font-size="14" text-anchor="middle" fill="#111">B</text>
<text x="197.7" y="196.3" font-size="7" text-anchor="middle" fill="#111">70</text>
<text x="232.5" y="205.8" font-size="8" text-anchor="middle" fill="#111">33</text>
<text x="233.3" y="221.4" font-size="8" text-anchor="middle" fill="#111">40</text>
<text x="157.6" y="234.7" font-size="14" text-anchor="middle" fill="#111">N</text>
<text x="146.2" y="226.3" font-size="6.5" text-anchor="middle" fill="#111">75</text>
<text x="157.5" y="249.7" font-size="8" text-anchor="middle" fill="#111">33</text>
<text x="149.8" y="261.4" font-size="7" text-anchor="middle" fill="#111">75</text>
<text x="159" y="274.2" font-size="14" text-anchor="middle" fill="#111">B</text>
<text x="171" y="269.8" font-size="7.5" text-anchor="middle" fill="#111">40</text>
<text x="185" y="267" font-size="7" text-anchor="middle" fill="#111">45</text>
<text x="169" y="278" font-size="5" text-anchor="middle" fill="#111">80</text>
<text x="189" y="285.5" font-size="5.5" text-anchor="middle" fill="#111">25</text>
<text x="239.1" y="294.2" font-size="14" text-anchor="middle" fill="#111">A</text>
<text x="231.8" y="301.4" font-size="7.5" text-anchor="middle" fill="#111">70</text>
<text x="247.2" y="314.8" font-size="8" text-anchor="middle" fill="#111">0</text>
<text x="204.5" y="288.6" font-size="6" text-anchor="middle" fill="#111">25</text>
<text x="356.7" y="223.9" font-size="14" text-anchor="middle" fill="#111">A</text>
<text x="371.3" y="229.7" font-size="7.5" text-anchor="middle" fill="#111">70</text>
<text x="321.3" y="252" font-size="7" text-anchor="middle" fill="#111">75</text>
<text x="419.7" y="253" font-size="8" text-anchor="middle" fill="#111">40</text>
<text x="400.2" y="268" font-size="8" text-anchor="middle" fill="#111">40</text>
<text x="371.5" y="296.3" font-size="8" text-anchor="middle" fill="#111">50</text>
<text x="387.2" y="290.7" font-size="7.5" text-anchor="middle" fill="#111">50</text>
<text x="383.8" y="301.3" font-size="13" text-anchor="middle" fill="#111">A</text>
<text x="308" y="269.7" font-size="5.5" text-anchor="middle" fill="#111">80</text>
<text x="158" y="45.3" font-size="14" text-anchor="middle" fill="#111">N</text>
<text x="138.7" y="77.6" font-size="14" text-anchor="middle" fill="#111">B</text>
<text x="129.2" y="53.6" font-size="8" text-anchor="middle" fill="#111">33</text>
<text x="132.6" y="60.3" font-size="7.5" text-anchor="middle" fill="#111">45</text>
<text x="127.5" y="84.7" font-size="7.5" text-anchor="middle" fill="#111">40</text>
<text x="228" y="263" font-size="5" text-anchor="middle" fill="#111">70</text>
<text x="205.5" y="229" font-size="6" text-anchor="middle" fill="#111">25</text>
<text class="mono" x="8.4" y="348.7" font-size="9.4" stroke="#000" stroke-width="0.3" fill="#000" textLength="126.7" lengthAdjust="spacingAndGlyphs" xml:space="preserve">6-10 DAY OUTLOOK</text>
<text class="mono" x="8.4" y="356.6" font-size="9.4" stroke="#000" stroke-width="0.3" fill="#000" textLength="182.2" lengthAdjust="spacingAndGlyphs" xml:space="preserve">TEMPERATURE PROBABILITY</text>
<text class="mono" x="8.4" y="364.6" font-size="9.4" stroke="#000" stroke-width="0.3" fill="#000" textLength="126.7" lengthAdjust="spacingAndGlyphs" xml:space="preserve">MADE  3 AUG 2020</text>
<text class="mono" x="8.4" y="372.1" font-size="9.4" stroke="#000" stroke-width="0.3" fill="#000" textLength="190.1" lengthAdjust="spacingAndGlyphs" xml:space="preserve">VALID  AUG 09 - 13, 2020</text>
<use href="#legend"/>
</g>
</svg>
</body></html>
